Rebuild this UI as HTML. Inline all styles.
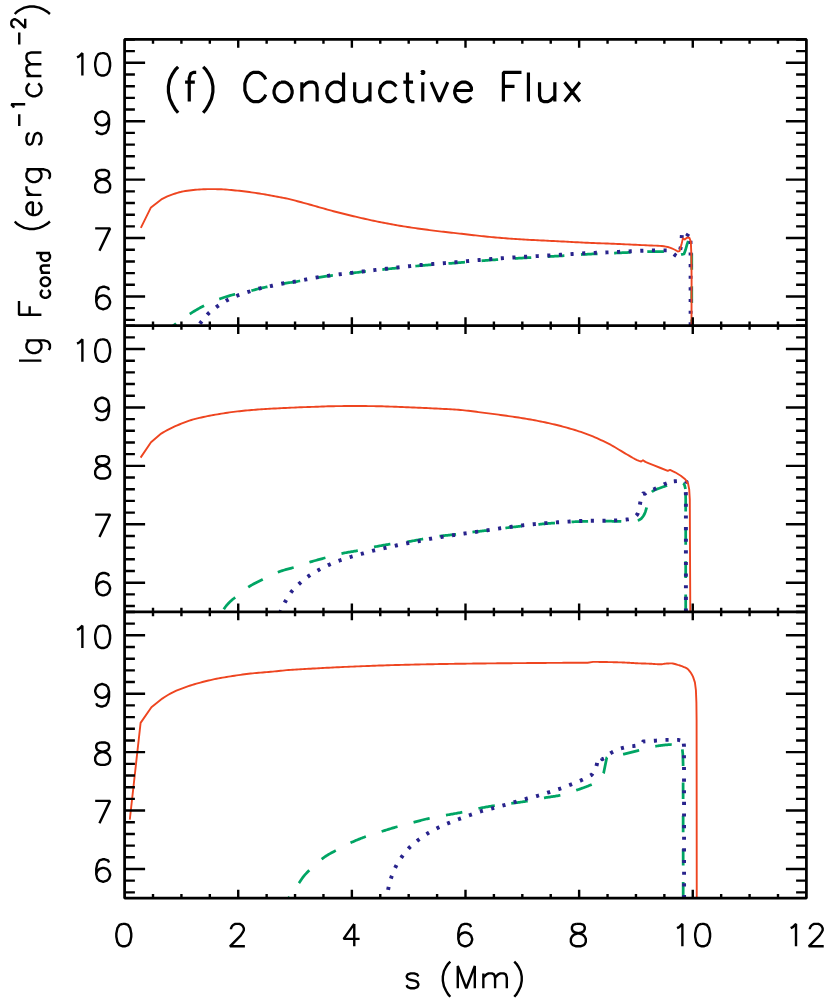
<!DOCTYPE html><html><head><meta charset="utf-8"><title>Conductive Flux</title><style>html,body{margin:0;padding:0;background:#fff}svg{display:block}</style></head><body><svg width="830" height="998" viewBox="0 0 830 998"><rect width="830" height="998" fill="#fff"/><defs><clipPath id="c0"><rect x="124.6" y="39.45" width="681.8" height="286.2"/></clipPath><clipPath id="c1"><rect x="124.6" y="325.65" width="681.8" height="286.3"/></clipPath><clipPath id="c2"><rect x="124.6" y="611.95" width="681.8" height="286.25"/></clipPath></defs><g clip-path="url(#c0)" fill="none" stroke-linejoin="round"><path d="M167.5 330.5 L169 329.18 L170.5 327.91 L172.01 326.7 L173.51 325.56 L175.01 324.42 L176.51 323.24 L178.01 322.04 L179.51 320.86 L181.02 319.71 L182.52 318.64 L184.02 317.62 L185.52 316.64 L187.02 315.68 L188.52 314.74 L190.03 313.79 L191.53 312.84 L193.03 311.89 L194.53 310.97 L196.03 310.07 L197.54 309.21 L199.04 308.38 L200.54 307.58 L202.04 306.79 L203.54 306.03 L205.04 305.28 L206.55 304.55 L208.05 303.84 L209.55 303.15 L211.05 302.48 L212.55 301.82 L214.05 301.18 L215.56 300.56 L217.06 299.96 L218.56 299.38 L220.06 298.82 L221.56 298.29 L223.06 297.77 L224.57 297.27 L226.07 296.79 L227.57 296.32 L229.07 295.87 L230.57 295.42 L232.08 294.99 L233.58 294.59 L235.08 294.21 L236.58 293.86 L238.08 293.53 L239.58 293.21 L241.09 292.91 L242.59 292.61 L244.09 292.31 L245.59 292.01 L247.09 291.69 L248.59 291.36 L250.1 291.01 L251.6 290.63 L253.1 290.24 L254.6 289.83 L256.1 289.42 L257.61 289.02 L259.11 288.64 L260.61 288.27 L262.11 287.93 L263.61 287.6 L265.11 287.28 L266.62 286.97 L268.12 286.66 L269.62 286.35 L271.12 286.04 L272.62 285.73 L274.12 285.41 L275.63 285.09 L277.13 284.77 L278.63 284.45 L280.13 284.15 L281.63 283.86 L283.14 283.59 L284.64 283.35 L286.14 283.12 L287.64 282.91 L289.14 282.7 L290.64 282.49 L292.15 282.28 L293.65 282.05 L295.15 281.81 L296.65 281.55 L298.15 281.27 L299.65 280.98 L301.16 280.69 L302.66 280.38 L304.16 280.08 L305.66 279.77 L307.16 279.46 L308.66 279.15 L310.17 278.85 L311.67 278.56 L313.17 278.27 L314.67 278 L316.17 277.75 L317.68 277.51 L319.18 277.28 L320.68 277.06 L322.18 276.84 L323.68 276.62 L325.18 276.41 L326.69 276.21 L328.19 276.01 L329.69 275.81 L331.19 275.61 L332.69 275.42 L334.19 275.23 L335.7 275.05 L337.2 274.86 L338.7 274.68 L340.2 274.5 L341.7 274.31 L343.21 274.13 L344.71 273.95 L346.21 273.77 L347.71 273.59 L349.21 273.41 L350.71 273.23 L352.22 273.05 L353.72 272.87 L355.22 272.68 L356.72 272.5 L358.22 272.32 L359.72 272.14 L361.23 271.97 L362.73 271.79 L364.23 271.61 L365.73 271.43 L367.23 271.26 L368.74 271.09 L370.24 270.91 L371.74 270.74 L373.24 270.57 L374.74 270.4 L376.24 270.23 L377.75 270.06 L379.25 269.89 L380.75 269.73 L382.25 269.56 L383.75 269.4 L385.25 269.23 L386.76 269.07 L388.26 268.91 L389.76 268.75 L391.26 268.59 L392.76 268.43 L394.26 268.27 L395.77 268.11 L397.27 267.95 L398.77 267.79 L400.27 267.63 L401.77 267.48 L403.28 267.32 L404.78 267.17 L406.28 267.02 L407.78 266.87 L409.28 266.72 L410.78 266.57 L412.29 266.42 L413.79 266.28 L415.29 266.14 L416.79 266 L418.29 265.86 L419.79 265.72 L421.3 265.59 L422.8 265.46 L424.3 265.33 L425.8 265.21 L427.3 265.08 L428.81 264.96 L430.31 264.84 L431.81 264.73 L433.31 264.61 L434.81 264.5 L436.31 264.38 L437.82 264.27 L439.32 264.16 L440.82 264.04 L442.32 263.93 L443.82 263.82 L445.32 263.71 L446.83 263.6 L448.33 263.48 L449.83 263.37 L451.33 263.26 L452.83 263.14 L454.34 263.02 L455.84 262.91 L457.34 262.79 L458.84 262.66 L460.34 262.54 L461.84 262.42 L463.35 262.29 L464.85 262.17 L466.35 262.04 L467.85 261.92 L469.35 261.79 L470.85 261.66 L472.36 261.54 L473.86 261.41 L475.36 261.29 L476.86 261.16 L478.36 261.04 L479.86 260.92 L481.37 260.8 L482.87 260.68 L484.37 260.56 L485.87 260.44 L487.37 260.33 L488.88 260.21 L490.38 260.1 L491.88 259.99 L493.38 259.88 L494.88 259.78 L496.38 259.67 L497.89 259.57 L499.39 259.46 L500.89 259.36 L502.39 259.26 L503.89 259.16 L505.39 259.06 L506.9 258.96 L508.4 258.86 L509.9 258.77 L511.4 258.67 L512.9 258.58 L514.41 258.49 L515.91 258.4 L517.41 258.31 L518.91 258.22 L520.41 258.14 L521.91 258.05 L523.42 257.97 L524.92 257.88 L526.42 257.8 L527.92 257.72 L529.42 257.64 L530.92 257.56 L532.43 257.48 L533.93 257.39 L535.43 257.31 L536.93 257.23 L538.43 257.14 L539.94 257.06 L541.44 256.97 L542.94 256.89 L544.44 256.81 L545.94 256.73 L547.44 256.64 L548.95 256.56 L550.45 256.48 L551.95 256.39 L553.45 256.31 L554.95 256.22 L556.45 256.13 L557.96 256.05 L559.46 255.96 L560.96 255.87 L562.46 255.77 L563.96 255.67 L565.46 255.57 L566.97 255.47 L568.47 255.37 L569.97 255.27 L571.47 255.16 L572.97 255.06 L574.48 254.96 L575.98 254.85 L577.48 254.76 L578.98 254.66 L580.48 254.57 L581.98 254.49 L583.49 254.41 L584.99 254.33 L586.49 254.26 L587.99 254.19 L589.49 254.12 L590.99 254.05 L592.5 253.99 L594 253.93 L595.5 253.87 L597 253.81 L598.5 253.75 L600.01 253.69 L601.51 253.63 L603.01 253.57 L604.51 253.5 L606.01 253.44 L607.51 253.38 L609.02 253.31 L610.52 253.25 L612.02 253.18 L613.52 253.11 L615.02 253.05 L616.52 252.98 L618.03 252.91 L619.53 252.85 L621.03 252.78 L622.53 252.72 L624.03 252.65 L625.54 252.59 L627.04 252.53 L628.54 252.47 L630.04 252.41 L631.54 252.35 L633.04 252.28 L634.55 252.21 L636.05 252.14 L637.55 252.07 L639.05 252 L640.55 251.94 L642.05 251.87 L643.56 251.81 L645.06 251.75 L646.56 251.7 L648.06 251.66 L649.56 251.63 L651.06 251.61 L652.57 251.6 L654.07 251.6 L655.57 251.6 L657.07 251.6 L658.57 251.6 L660.08 251.6 L661.58 251.6 L663.08 251.6 L664.58 251.6 L666.08 251.6 L667.58 251.69 L669.09 252.08 L670.59 252.64 L672.09 253.52 L673.59 254.86 L675.09 255.5" stroke="#00A564" stroke-width="2.75" stroke-dasharray="16.6 16.6" stroke-dashoffset="5.51"/><path d="M675.09 255.5 L676.59 255.49 L678.1 255.4 L679.6 255.16 L681.1 254.7 L684 254 L685.5 250 L687.2 243.9 L688.5 240.5 L690.3 239.5 L691.5 242 L691.75 250 L691.75 325.4" stroke="#00A564" stroke-width="2.75" stroke-dasharray="16.6 16.6" stroke-dashoffset="27.1"/><path d="M198.6 325.4 L200.1 323.37 L201.6 321.45 L203.1 319.55 L204.6 317.69 L206.1 315.92 L207.6 314.29 L209.1 312.83 L210.61 311.5 L212.11 310.25 L213.61 309.08 L215.11 307.96 L216.61 306.88 L218.11 305.82 L219.61 304.78 L221.11 303.77 L222.61 302.8 L224.11 301.87 L225.61 300.99 L227.11 300.17 L228.61 299.4 L230.11 298.67 L231.61 297.97 L233.11 297.3 L234.62 296.67 L236.12 296.06 L237.62 295.47 L239.12 294.91 L240.62 294.38 L242.12 293.87 L243.62 293.39 L245.12 292.91 L246.62 292.44 L248.12 291.97 L249.62 291.5 L251.12 291.02 L252.62 290.53 L254.12 290.05 L255.62 289.58 L257.12 289.13 L258.63 288.7 L260.13 288.29 L261.63 287.93 L263.13 287.58 L264.63 287.26 L266.13 286.95 L267.63 286.65 L269.13 286.35 L270.63 286.04 L272.13 285.73 L273.63 285.4 L275.13 285.07 L276.63 284.73 L278.13 284.4 L279.63 284.07 L281.14 283.77 L282.64 283.48 L284.14 283.23 L285.64 282.99 L287.14 282.77 L288.64 282.57 L290.14 282.36 L291.64 282.15 L293.14 281.93 L294.64 281.69 L296.14 281.44 L297.64 281.16 L299.14 280.88 L300.64 280.58 L302.14 280.28 L303.64 279.97 L305.15 279.65 L306.65 279.34 L308.15 279.03 L309.65 278.72 L311.15 278.42 L312.65 278.13 L314.15 277.85 L315.65 277.59 L317.15 277.34 L318.65 277.11 L320.15 276.88 L321.65 276.66 L323.15 276.44 L324.65 276.22 L326.15 276.02 L327.66 275.81 L329.16 275.61 L330.66 275.41 L332.16 275.22 L333.66 275.03 L335.16 274.84 L336.66 274.65 L338.16 274.47 L339.66 274.28 L341.16 274.1 L342.66 273.92 L344.16 273.73 L345.66 273.55 L347.16 273.37 L348.66 273.19 L350.16 273 L351.67 272.82 L353.17 272.63 L354.67 272.45 L356.17 272.26 L357.67 272.08 L359.17 271.89 L360.67 271.71 L362.17 271.53 L363.67 271.35 L365.17 271.17 L366.67 270.99 L368.17 270.81 L369.67 270.64 L371.17 270.46 L372.67 270.28 L374.17 270.11 L375.68 269.93 L377.18 269.76 L378.68 269.59 L380.18 269.42 L381.68 269.24 L383.18 269.07 L384.68 268.9 L386.18 268.74 L387.68 268.57 L389.18 268.4 L390.68 268.23 L392.18 268.06 L393.68 267.89 L395.18 267.72 L396.68 267.56 L398.19 267.39 L399.69 267.22 L401.19 267.05 L402.69 266.89 L404.19 266.73 L405.69 266.56 L407.19 266.4 L408.69 266.24 L410.19 266.09 L411.69 265.93 L413.19 265.78 L414.69 265.63 L416.19 265.48 L417.69 265.33 L419.19 265.19 L420.69 265.05 L422.2 264.91 L423.7 264.78 L425.2 264.65 L426.7 264.52 L428.2 264.39 L429.7 264.27 L431.2 264.15 L432.7 264.03 L434.2 263.92 L435.7 263.8 L437.2 263.69 L438.7 263.57 L440.2 263.46 L441.7 263.34 L443.2 263.23 L444.71 263.11 L446.21 263 L447.71 262.88 L449.21 262.76 L450.71 262.64 L452.21 262.52 L453.71 262.39 L455.21 262.26 L456.71 262.13 L458.21 261.99 L459.71 261.85 L461.21 261.71 L462.71 261.56 L464.21 261.42 L465.71 261.27 L467.21 261.14 L468.72 261 L470.22 260.86 L471.72 260.72 L473.22 260.59 L474.72 260.45 L476.22 260.31 L477.72 260.18 L479.22 260.05 L480.72 259.91 L482.22 259.78 L483.72 259.65 L485.22 259.52 L486.72 259.4 L488.22 259.27 L489.72 259.15 L491.22 259.04 L492.73 258.92 L494.23 258.8 L495.73 258.69 L497.23 258.57 L498.73 258.46 L500.23 258.35 L501.73 258.24 L503.23 258.14 L504.73 258.03 L506.23 257.93 L507.73 257.82 L509.23 257.72 L510.73 257.62 L512.23 257.53 L513.73 257.43 L515.24 257.34 L516.74 257.24 L518.24 257.16 L519.74 257.07 L521.24 256.98 L522.74 256.9 L524.24 256.82 L525.74 256.73 L527.24 256.65 L528.74 256.57 L530.24 256.49 L531.74 256.41 L533.24 256.33 L534.74 256.25 L536.24 256.16 L537.74 256.08 L539.25 256 L540.75 255.91 L542.25 255.83 L543.75 255.75 L545.25 255.66 L546.75 255.58 L548.25 255.5 L549.75 255.41 L551.25 255.33 L552.75 255.25 L554.25 255.16 L555.75 255.07 L557.25 254.99 L558.75 254.9 L560.25 254.81 L561.76 254.72 L563.26 254.62 L564.76 254.52 L566.26 254.42 L567.76 254.31 L569.26 254.21 L570.76 254.1 L572.26 254 L573.76 253.89 L575.26 253.79 L576.76 253.69 L578.26 253.6 L579.76 253.51 L581.26 253.42 L582.76 253.34 L584.26 253.27 L585.77 253.2 L587.27 253.14 L588.77 253.07 L590.27 253.02 L591.77 252.96 L593.27 252.9 L594.77 252.85 L596.27 252.8 L597.77 252.75 L599.27 252.69 L600.77 252.64 L602.27 252.59 L603.77 252.53 L605.27 252.47 L606.77 252.41 L608.27 252.34 L609.78 252.28 L611.28 252.21 L612.78 252.14 L614.28 252.06 L615.78 251.99 L617.28 251.92 L618.78 251.84 L620.28 251.77 L621.78 251.69 L623.28 251.62 L624.78 251.55 L626.28 251.48 L627.78 251.41 L629.28 251.34 L630.78 251.27 L632.29 251.21 L633.79 251.13 L635.29 251.06 L636.79 250.98 L638.29 250.9 L639.79 250.82 L641.29 250.75 L642.79 250.68 L644.29 250.61 L645.79 250.55 L647.29 250.5 L648.79 250.46 L650.29 250.43 L651.79 250.41 L653.29 250.4 L654.79 250.4 L656.3 250.4 L657.8 250.4 L659.3 250.4 L660.8 250.4 L662.3 250.4 L663.8 250.4 L665.3 250.4 L666.8 250.4" stroke="#28238C" stroke-width="3.9" stroke-dasharray="3.1 8.54" stroke-dashoffset="9.54"/><path d="M666.8 250.4 L670 251.3 L673 253.3 L675.3 255.3 L677.2 256.4 L678.6 255.3 L679.8 251.5 L680.9 246.5 L681.5 240 L681.9 234.3 L683.5 236.8 L685.2 238.3 L687 236 L688.7 233.2 L690 236 L690.5 240 L690.6 254 L690.6 325.4" stroke="#28238C" stroke-width="3.9" stroke-dasharray="3.1 8.54" stroke-dashoffset="3.54"/><path d="M140.84 227.83 L150.96 207.45 L161.3 199.4 L163.3 198.37 L165.3 197.4 L167.31 196.49 L169.31 195.65 L171.31 194.87 L173.31 194.16 L175.31 193.48 L177.32 192.84 L179.32 192.28 L181.32 191.8 L183.32 191.4 L185.32 191.05 L187.33 190.74 L189.33 190.47 L191.33 190.23 L193.33 190.01 L195.33 189.81 L197.33 189.62 L199.34 189.46 L201.34 189.34 L203.34 189.27 L205.34 189.2 L207.34 189.15 L209.35 189.11 L211.35 189.1 L213.35 189.11 L215.35 189.14 L217.35 189.18 L219.36 189.23 L221.36 189.28 L223.36 189.36 L225.36 189.5 L227.36 189.67 L229.37 189.87 L231.37 190.07 L233.37 190.25 L235.37 190.43 L237.37 190.61 L239.38 190.8 L241.38 191.01 L243.38 191.22 L245.38 191.47 L247.38 191.74 L249.39 192.03 L251.39 192.33 L253.39 192.63 L255.39 192.93 L257.39 193.24 L259.39 193.54 L261.4 193.86 L263.4 194.18 L265.4 194.52 L267.4 194.86 L269.4 195.23 L271.41 195.6 L273.41 195.97 L275.41 196.35 L277.41 196.73 L279.41 197.1 L281.42 197.47 L283.42 197.86 L285.42 198.26 L287.42 198.69 L289.42 199.16 L291.43 199.65 L293.43 200.16 L295.43 200.69 L297.43 201.22 L299.43 201.75 L301.44 202.28 L303.44 202.82 L305.44 203.37 L307.44 203.92 L309.44 204.47 L311.45 205.03 L313.45 205.59 L315.45 206.15 L317.45 206.72 L319.45 207.3 L321.46 207.87 L323.46 208.44 L325.46 209.01 L327.46 209.58 L329.46 210.14 L331.46 210.68 L333.47 211.22 L335.47 211.74 L337.47 212.26 L339.47 212.78 L341.47 213.28 L343.48 213.79 L345.48 214.28 L347.48 214.78 L349.48 215.26 L351.48 215.74 L353.49 216.22 L355.49 216.69 L357.49 217.16 L359.49 217.62 L361.49 218.08 L363.5 218.54 L365.5 218.99 L367.5 219.44 L369.5 219.88 L371.5 220.31 L373.51 220.74 L375.51 221.15 L377.51 221.56 L379.51 221.97 L381.51 222.37 L383.52 222.77 L385.52 223.16 L387.52 223.54 L389.52 223.92 L391.52 224.29 L393.52 224.65 L395.53 225.01 L397.53 225.35 L399.53 225.69 L401.53 226.02 L403.53 226.34 L405.54 226.66 L407.54 226.97 L409.54 227.27 L411.54 227.57 L413.54 227.87 L415.55 228.16 L417.55 228.44 L419.55 228.72 L421.55 229 L423.55 229.28 L425.56 229.55 L427.56 229.81 L429.56 230.08 L431.56 230.33 L433.56 230.59 L435.57 230.84 L437.57 231.09 L439.57 231.33 L441.57 231.57 L443.57 231.81 L445.58 232.04 L447.58 232.26 L449.58 232.48 L451.58 232.7 L453.58 232.92 L455.58 233.13 L457.59 233.35 L459.59 233.57 L461.59 233.79 L463.59 234.01 L465.59 234.24 L467.6 234.48 L469.6 234.71 L471.6 234.95 L473.6 235.19 L475.6 235.43 L477.61 235.66 L479.61 235.88 L481.61 236.09 L483.61 236.3 L485.61 236.5 L487.62 236.69 L489.62 236.89 L491.62 237.08 L493.62 237.26 L495.62 237.44 L497.63 237.62 L499.63 237.79 L501.63 237.96 L503.63 238.12 L505.63 238.27 L507.64 238.43 L509.64 238.58 L511.64 238.72 L513.64 238.86 L515.64 239 L517.64 239.13 L519.65 239.27 L521.65 239.39 L523.65 239.51 L525.65 239.63 L527.65 239.75 L529.66 239.85 L531.66 239.96 L533.66 240.06 L535.66 240.16 L537.66 240.26 L539.67 240.35 L541.67 240.45 L543.67 240.55 L545.67 240.65 L547.67 240.75 L549.68 240.85 L551.68 240.95 L553.68 241.05 L555.68 241.16 L557.68 241.26 L559.69 241.36 L561.69 241.46 L563.69 241.56 L565.69 241.66 L567.69 241.76 L569.7 241.87 L571.7 241.97 L573.7 242.08 L575.7 242.18 L577.7 242.29 L579.71 242.4 L581.71 242.5 L583.71 242.6 L585.71 242.7 L587.71 242.79 L589.71 242.88 L591.72 242.97 L593.72 243.05 L595.72 243.12 L597.72 243.19 L599.72 243.26 L601.73 243.33 L603.73 243.4 L605.73 243.47 L607.73 243.54 L609.73 243.62 L611.74 243.7 L613.74 243.78 L615.74 243.87 L617.74 243.95 L619.74 244.05 L621.75 244.14 L623.75 244.23 L625.75 244.33 L627.75 244.42 L629.75 244.52 L631.76 244.61 L633.76 244.71 L635.76 244.8 L637.76 244.9 L639.76 244.99 L641.77 245.08 L643.77 245.17 L645.77 245.26 L647.77 245.35 L649.77 245.44 L651.77 245.52 L653.78 245.59 L655.78 245.65 L657.78 245.73 L659.78 245.83 L661.78 245.98 L663.79 246.24 L665.79 246.6 L667.79 247.03 L669.79 247.59 L671.79 248.37 L673.8 249.25 L675.8 250.27 L677.8 251.45 L679.6 251.1 L681.45 244.6 L682.9 238.4 L684.7 239.5 L686.9 237.7 L689.4 237.7 L690.85 241.7 L691.4 256.15 L691.6 280 L691.5 325.4" stroke="#EE4520" stroke-width="1.9"/></g><g clip-path="url(#c1)" fill="none" stroke-linejoin="round"><path d="M222.5 611.7 L223.5 609.77 L224.5 608.18 L225.5 606.77 L226.5 605.5 L227.5 604.34 L228.5 603.26 L229.5 602.25 L230.5 601.3 L231.5 600.41 L232.5 599.57 L233.5 598.76 L234.5 597.94 L235.5 597.07 L236.5 596.17 L237.5 595.25 L238.5 594.34 L239.5 593.45 L240.5 592.6 L241.5 591.81 L242.5 591.06 L243.5 590.34 L244.5 589.64 L245.5 588.96 L246.5 588.3 L247.5 587.65 L248.5 587.01 L249.5 586.38 L250.5 585.77 L251.5 585.17 L252.5 584.59 L253.5 584.02 L254.5 583.47 L255.5 582.94 L256.5 582.43 L257.5 581.94 L258.5 581.47 L259.5 581 L260.5 580.53 L261.5 580.06 L262.5 579.57 L263.5 579.08 L264.5 578.57 L265.5 578.06 L266.5 577.55 L267.5 577.04 L268.5 576.54 L269.5 576.04 L270.5 575.56 L271.5 575.07 L272.5 574.59 L273.5 574.11 L274.5 573.64 L275.5 573.18 L276.5 572.75 L277.5 572.34 L278.5 571.96 L279.5 571.59 L280.5 571.24 L281.5 570.9 L282.5 570.58 L283.5 570.26 L284.5 569.95 L285.5 569.65 L286.5 569.37 L287.5 569.1 L288.5 568.84 L289.5 568.58 L290.5 568.32 L291.5 568.06 L292.5 567.79 L293.5 567.5 L294.5 567.2 L295.5 566.89 L296.5 566.57 L297.5 566.24 L298.5 565.91 L299.5 565.57 L300.5 565.23 L301.5 564.88 L302.5 564.54 L303.5 564.2 L304.5 563.85 L305.5 563.52 L306.5 563.18 L307.5 562.86 L308.5 562.54 L309.5 562.23 L310.5 561.93 L311.5 561.63 L312.5 561.34 L313.5 561.05 L314.5 560.77 L315.5 560.48 L316.5 560.2 L317.5 559.92 L318.5 559.65 L319.5 559.37 L320.5 559.1 L321.5 558.83 L322.5 558.56 L323.5 558.29 L324.5 558.02 L325.5 557.75 L326.5 557.47 L327.5 557.2 L328.5 556.92 L329.5 556.64 L330.5 556.36 L331.5 556.08 L332.5 555.81 L333.5 555.53 L334.5 555.26 L335.5 555 L336.5 554.74 L337.5 554.48 L338.5 554.23 L339.5 553.99 L340.5 553.76 L341.5 553.54 L342.5 553.33 L343.5 553.13 L344.5 552.94 L345.5 552.75 L346.5 552.58 L347.5 552.4 L348.5 552.23 L349.5 552.06 L350.5 551.9 L351.5 551.73 L352.5 551.56 L353.5 551.39 L354.5 551.22 L355.5 551.04 L356.5 550.85 L357.5 550.66 L358.5 550.46 L359.5 550.25 L360.5 550.03 L361.5 549.81 L362.5 549.59 L363.5 549.36 L364.5 549.13 L365.5 548.89 L366.5 548.66 L367.5 548.43 L368.5 548.19 L369.5 547.96 L370.5 547.74 L371.5 547.52 L372.5 547.31 L373.5 547.1 L374.5 546.9 L375.5 546.7 L376.5 546.51 L377.5 546.32 L378.5 546.12 L379.5 545.94 L380.5 545.75 L381.5 545.57 L382.5 545.38 L383.5 545.21 L384.5 545.03 L385.5 544.86 L386.5 544.69 L387.5 544.53 L388.5 544.36 L389.5 544.21 L390.5 544.05 L391.5 543.91 L392.5 543.77 L393.5 543.63 L394.5 543.5 L395.5 543.38 L396.5 543.25 L397.5 543.13 L398.5 543.01 L399.5 542.89 L400.5 542.76 L401.5 542.64 L402.5 542.51 L403.5 542.38 L404.5 542.25 L405.5 542.11 L406.5 541.96 L407.5 541.81 L408.5 541.64 L409.5 541.48 L410.5 541.3 L411.5 541.12 L412.5 540.94 L413.5 540.75 L414.5 540.56 L415.5 540.37 L416.5 540.18 L417.5 539.98 L418.5 539.79 L419.5 539.6 L420.5 539.42 L421.5 539.23 L422.5 539.05 L423.5 538.88 L424.5 538.7 L425.5 538.52 L426.5 538.34 L427.5 538.16 L428.5 537.98 L429.5 537.8 L430.5 537.62 L431.5 537.44 L432.5 537.27 L433.5 537.1 L434.5 536.93 L435.5 536.77 L436.5 536.61 L437.5 536.46 L438.5 536.32 L439.5 536.18 L440.5 536.05 L441.5 535.92 L442.5 535.81 L443.5 535.7 L444.5 535.59 L445.5 535.48 L446.5 535.38 L447.5 535.28 L448.5 535.19 L449.5 535.09 L450.5 534.99 L451.5 534.89 L452.5 534.79 L453.5 534.68 L454.5 534.57 L455.5 534.46 L456.5 534.34 L457.5 534.21 L458.5 534.08 L459.5 533.95 L460.5 533.81 L461.5 533.67 L462.5 533.52 L463.5 533.38 L464.5 533.23 L465.5 533.09 L466.5 532.94 L467.5 532.79 L468.5 532.65 L469.5 532.51 L470.5 532.37 L471.5 532.24 L472.5 532.11 L473.5 531.99 L474.5 531.87 L475.5 531.75 L476.5 531.63 L477.5 531.52 L478.5 531.4 L479.5 531.29 L480.5 531.18 L481.5 531.07 L482.5 530.96 L483.5 530.85 L484.5 530.74 L485.5 530.63 L486.5 530.51 L487.5 530.4 L488.5 530.28 L489.5 530.16 L490.5 530.04 L491.5 529.91 L492.5 529.78 L493.5 529.65 L494.5 529.52 L495.5 529.38 L496.5 529.25 L497.5 529.11 L498.5 528.97 L499.5 528.83 L500.5 528.69 L501.5 528.55 L502.5 528.42 L503.5 528.28 L504.5 528.14 L505.5 528.01 L506.5 527.87 L507.5 527.74 L508.5 527.61 L509.5 527.48 L510.5 527.36 L511.5 527.24 L512.5 527.12 L513.5 527 L514.5 526.88 L515.5 526.76 L516.5 526.65 L517.5 526.53 L518.5 526.41 L519.5 526.3 L520.5 526.19 L521.5 526.07 L522.5 525.96 L523.5 525.85 L524.5 525.74 L525.5 525.63 L526.5 525.53 L527.5 525.42 L528.5 525.32 L529.5 525.21 L530.5 525.11 L531.5 525.01 L532.5 524.92 L533.5 524.82 L534.5 524.72 L535.5 524.63 L536.5 524.54 L537.5 524.44 L538.5 524.35 L539.5 524.26 L540.5 524.17 L541.5 524.08 L542.5 523.99 L543.5 523.9 L544.5 523.82 L545.5 523.73 L546.5 523.65 L547.5 523.56 L548.5 523.48 L549.5 523.4 L550.5 523.32 L551.5 523.24 L552.5 523.17 L553.5 523.09 L554.5 523.02 L555.5 522.95 L556.5 522.88 L557.5 522.81 L558.5 522.74 L559.5 522.67 L560.5 522.6 L561.5 522.54 L562.5 522.47 L563.5 522.4 L564.5 522.34 L565.5 522.27 L566.5 522.21 L567.5 522.14 L568.5 522.08 L569.5 522.02 L570.5 521.96 L571.5 521.91 L572.5 521.85 L573.5 521.8 L574.5 521.75 L575.5 521.7 L576.5 521.65 L577.5 521.61 L578.5 521.57 L579.5 521.53 L580.5 521.5 L581.5 521.46 L582.5 521.43 L583.5 521.39 L584.5 521.36 L585.5 521.33 L586.5 521.3 L587.5 521.27 L588.5 521.24 L589.5 521.23 L590.5 521.21 L591.5 521.2 L592.5 521.2 L593.5 521.2 L594.5 521.2 L595.5 521.2 L596.5 521.2 L597.5 521.2 L598.5 521.2 L599.5 521.2 L600.5 521.2 L601.5 521.2 L602.5 521.2 L603.5 521.2 L604.5 521.2 L605.5 521.2 L606.5 521.21 L607.5 521.21 L608.5 521.22 L609.5 521.22 L610.5 521.23 L611.5 521.24 L612.5 521.26 L613.5 521.27 L614.5 521.28 L615.5 521.29 L616.5 521.31 L617.5 521.33 L618.5 521.36 L619.5 521.4 L620.5 521.45 L621.5 521.5 L622.5 521.55 L623.5 521.6 L624.5 521.65 L625.5 521.69 L626.5 521.73 L627.5 521.76 L628.5 521.79 L629.5 521.8 L630.5 521.79 L631.5 521.73 L632.5 521.62 L633.5 521.47 L634.5 521.3 L635.5 521.1 L636.5 520.89 L637.5 520.6 L638.5 520.23 L639.5 519.77 L640.5 519.18 L641.5 518.33 L642.5 517.2 L643.5 515.8 L644.5 514.04 L645.5 511.42 L646.5 508 L647.5 502.47 L648.5 498.26 L649.5 495.49 L650.5 493.7 L651.5 492.37 L652.5 491.37 L653.5 490.68 L654.5 490.13 L655.5 489.66 L656.5 489.26 L657.5 488.89 L658.5 488.55 L659.5 488.19 L660.5 487.81 L661.5 487.43 L662.5 487.07 L663.5 486.72 L664.5 486.37 L665.5 486.03 L666.5 485.68 L667.5 485.31 L668.5 484.91 L669.5 484.48 L670.5 484.05 L671.5 483.66 L672.5 483.33 L673.5 483.08 L674.5 482.93 L675.5 482.81 L676.5 482.7 L677.5 482.61 L678.5 482.54 L679.5 482.5 L680.5 482.52 L681.5 482.71 L682.5 483.08 L683.5 483.64 L684.5 485.01 L685.5 489" stroke="#00A564" stroke-width="2.75" stroke-dasharray="16.6 16.6" stroke-dashoffset="30.53"/><path d="M685.5 489 L685.7 500 L685.7 611.7" stroke="#00A564" stroke-width="2.75" stroke-dasharray="16.6 16.6" stroke-dashoffset="27.3"/><path d="M280.2 612.3 L281.2 610.26 L282.2 608.09 L283.2 605.89 L284.2 603.74 L285.21 601.74 L286.21 599.93 L287.21 598.19 L288.21 596.52 L289.21 594.94 L290.21 593.46 L291.21 592.09 L292.21 590.85 L293.21 589.69 L294.22 588.6 L295.22 587.57 L296.22 586.58 L297.22 585.63 L298.22 584.71 L299.22 583.8 L300.22 582.9 L301.22 582.01 L302.22 581.14 L303.23 580.29 L304.23 579.45 L305.23 578.64 L306.23 577.86 L307.23 577.1 L308.23 576.37 L309.23 575.67 L310.23 574.99 L311.23 574.34 L312.24 573.71 L313.24 573.09 L314.24 572.49 L315.24 571.9 L316.24 571.33 L317.24 570.76 L318.24 570.21 L319.24 569.66 L320.24 569.12 L321.25 568.58 L322.25 568.06 L323.25 567.54 L324.25 567.04 L325.25 566.54 L326.25 566.05 L327.25 565.58 L328.25 565.12 L329.25 564.66 L330.26 564.22 L331.26 563.79 L332.26 563.37 L333.26 562.96 L334.26 562.55 L335.26 562.15 L336.26 561.76 L337.26 561.38 L338.26 561.01 L339.27 560.64 L340.27 560.28 L341.27 559.93 L342.27 559.59 L343.27 559.25 L344.27 558.92 L345.27 558.6 L346.27 558.28 L347.27 557.97 L348.28 557.66 L349.28 557.35 L350.28 557.05 L351.28 556.75 L352.28 556.46 L353.28 556.17 L354.28 555.89 L355.28 555.61 L356.28 555.34 L357.29 555.07 L358.29 554.8 L359.29 554.53 L360.29 554.26 L361.29 553.99 L362.29 553.72 L363.29 553.45 L364.29 553.17 L365.29 552.88 L366.3 552.6 L367.3 552.31 L368.3 552.03 L369.3 551.75 L370.3 551.47 L371.3 551.2 L372.3 550.93 L373.3 550.67 L374.3 550.43 L375.31 550.19 L376.31 549.96 L377.31 549.73 L378.31 549.51 L379.31 549.29 L380.31 549.07 L381.31 548.85 L382.31 548.64 L383.31 548.42 L384.32 548.2 L385.32 547.97 L386.32 547.75 L387.32 547.52 L388.32 547.29 L389.32 547.06 L390.32 546.84 L391.32 546.61 L392.32 546.38 L393.33 546.16 L394.33 545.93 L395.33 545.71 L396.33 545.49 L397.33 545.28 L398.33 545.06 L399.33 544.85 L400.33 544.64 L401.33 544.42 L402.34 544.21 L403.34 544.01 L404.34 543.8 L405.34 543.6 L406.34 543.4 L407.34 543.21 L408.34 543.02 L409.34 542.83 L410.34 542.65 L411.35 542.48 L412.35 542.31 L413.35 542.14 L414.35 541.97 L415.35 541.79 L416.35 541.62 L417.35 541.44 L418.35 541.26 L419.35 541.07 L420.36 540.87 L421.36 540.67 L422.36 540.45 L423.36 540.23 L424.36 540.01 L425.36 539.79 L426.36 539.58 L427.36 539.36 L428.36 539.15 L429.37 538.95 L430.37 538.76 L431.37 538.58 L432.37 538.41 L433.37 538.24 L434.37 538.08 L435.37 537.92 L436.37 537.77 L437.37 537.61 L438.38 537.46 L439.38 537.31 L440.38 537.15 L441.38 537 L442.38 536.84 L443.38 536.68 L444.38 536.52 L445.38 536.36 L446.38 536.2 L447.39 536.04 L448.39 535.88 L449.39 535.72 L450.39 535.57 L451.39 535.41 L452.39 535.25 L453.39 535.1 L454.39 534.95 L455.39 534.8 L456.4 534.65 L457.4 534.5 L458.4 534.35 L459.4 534.21 L460.4 534.06 L461.4 533.92 L462.4 533.77 L463.4 533.63 L464.4 533.49 L465.4 533.34 L466.41 533.2 L467.41 533.06 L468.41 532.92 L469.41 532.78 L470.41 532.65 L471.41 532.51 L472.41 532.37 L473.41 532.23 L474.41 532.09 L475.42 531.95 L476.42 531.81 L477.42 531.67 L478.42 531.53 L479.42 531.38 L480.42 531.24 L481.42 531.1 L482.42 530.95 L483.42 530.81 L484.43 530.66 L485.43 530.52 L486.43 530.37 L487.43 530.23 L488.43 530.08 L489.43 529.94 L490.43 529.79 L491.43 529.64 L492.43 529.49 L493.44 529.34 L494.44 529.19 L495.44 529.04 L496.44 528.89 L497.44 528.74 L498.44 528.58 L499.44 528.43 L500.44 528.28 L501.44 528.14 L502.45 527.99 L503.45 527.84 L504.45 527.7 L505.45 527.55 L506.45 527.41 L507.45 527.27 L508.45 527.14 L509.45 527 L510.45 526.87 L511.46 526.74 L512.46 526.61 L513.46 526.49 L514.46 526.36 L515.46 526.24 L516.46 526.11 L517.46 525.99 L518.46 525.87 L519.46 525.74 L520.47 525.62 L521.47 525.51 L522.47 525.39 L523.47 525.27 L524.47 525.16 L525.47 525.05 L526.47 524.94 L527.47 524.83 L528.47 524.72 L529.48 524.62 L530.48 524.52 L531.48 524.41 L532.48 524.32 L533.48 524.22 L534.48 524.13 L535.48 524.03 L536.48 523.94 L537.48 523.85 L538.49 523.77 L539.49 523.68 L540.49 523.59 L541.49 523.51 L542.49 523.42 L543.49 523.34 L544.49 523.26 L545.49 523.18 L546.49 523.1 L547.5 523.02 L548.5 522.95 L549.5 522.87 L550.5 522.8 L551.5 522.72 L552.5 522.65 L553.5 522.58 L554.5 522.51 L555.5 522.44 L556.51 522.37 L557.51 522.31 L558.51 522.24 L559.51 522.17 L560.51 522.11 L561.51 522.04 L562.51 521.97 L563.51 521.91 L564.51 521.84 L565.52 521.78 L566.52 521.71 L567.52 521.65 L568.52 521.59 L569.52 521.53 L570.52 521.47 L571.52 521.41 L572.52 521.35 L573.52 521.3 L574.53 521.25 L575.53 521.2 L576.53 521.15 L577.53 521.11 L578.53 521.07 L579.53 521.03 L580.53 521 L581.53 520.96 L582.53 520.93 L583.54 520.89 L584.54 520.86 L585.54 520.82 L586.54 520.79 L587.54 520.77 L588.54 520.74 L589.54 520.72 L590.54 520.71 L591.54 520.7 L592.55 520.7 L593.55 520.7 L594.55 520.7 L595.55 520.7 L596.55 520.7 L597.55 520.7 L598.55 520.7 L599.55 520.7 L600.55 520.7 L601.56 520.7 L602.56 520.7 L603.56 520.7 L604.56 520.7 L605.56 520.69 L606.56 520.68 L607.56 520.67 L608.56 520.65 L609.56 520.62 L610.57 520.59 L611.57 520.56 L612.57 520.53 L613.57 520.49 L614.57 520.46 L615.57 520.42 L616.57 520.38 L617.57 520.33 L618.57 520.28 L619.58 520.21 L620.58 520.15 L621.58 520.07 L622.58 519.98 L623.58 519.89 L624.58 519.79 L625.58 519.67 L626.58 519.55 L627.58 519.42 L628.59 519.25 L629.59 519.05 L630.59 518.8 L631.59 518.51 L632.59 518.16 L633.59 517.74 L634.59 517.14 L635.59 516.33 L636.59 515.25 L637.6 513.84 L638.6 510.89 L639.6 506.52 L640.6 500.53 L641.6 496.6 L643.2 493.4 L645.2 493.7 L646.2 492.3 L647.23 491.8 L648.27 491.32 L649.3 490.88 L650.33 490.48 L651.37 490.11 L652.4 489.75 L653.43 489.36 L654.47 488.95 L655.5 488.51 L656.53 488.06 L657.57 487.6 L658.6 487.13 L659.63 486.64 L660.67 486.14 L661.7 485.63 L662.73 485.1 L663.77 484.56 L664.8 484 L668.3 482.7 L669.5 483.5 L670.5 481.7 L674.4 481.3 L680 480.9 L684 481.1 L686.6 481.9 L685.5 484.8 L685.7 490 L685.9 495" stroke="#28238C" stroke-width="3.9" stroke-dasharray="3.1 8.54" stroke-dashoffset="1"/><path d="M685.9 495 L685.9 611.7" stroke="#28238C" stroke-width="3.9" stroke-dasharray="3.1 8.54" stroke-dashoffset="2.89"/><path d="M140.6 457.6 L151 442.2 L161.2 433.6 L163.21 432.41 L165.22 431.26 L167.22 430.16 L169.23 429.1 L171.24 428.09 L173.25 427.13 L175.26 426.22 L177.26 425.34 L179.27 424.5 L181.28 423.69 L183.29 422.89 L185.3 422.1 L187.3 421.34 L189.31 420.63 L191.32 419.98 L193.33 419.41 L195.34 418.88 L197.34 418.39 L199.35 417.92 L201.36 417.47 L203.37 417.04 L205.37 416.61 L207.38 416.19 L209.39 415.79 L211.4 415.41 L213.41 415.03 L215.41 414.67 L217.42 414.33 L219.43 414 L221.44 413.67 L223.45 413.34 L225.45 413.03 L227.46 412.72 L229.47 412.43 L231.48 412.15 L233.49 411.89 L235.49 411.64 L237.5 411.41 L239.51 411.19 L241.52 410.97 L243.53 410.77 L245.53 410.57 L247.54 410.38 L249.55 410.2 L251.56 410.03 L253.57 409.86 L255.57 409.7 L257.58 409.55 L259.59 409.4 L261.6 409.26 L263.61 409.13 L265.61 409 L267.62 408.88 L269.63 408.77 L271.64 408.66 L273.65 408.55 L275.65 408.45 L277.66 408.34 L279.67 408.24 L281.68 408.14 L283.68 408.04 L285.69 407.95 L287.7 407.86 L289.71 407.76 L291.72 407.67 L293.72 407.58 L295.73 407.48 L297.74 407.39 L299.75 407.31 L301.76 407.23 L303.76 407.16 L305.77 407.09 L307.78 407.03 L309.79 406.96 L311.8 406.9 L313.8 406.83 L315.81 406.75 L317.82 406.68 L319.83 406.6 L321.84 406.52 L323.84 406.45 L325.85 406.38 L327.86 406.32 L329.87 406.27 L331.88 406.23 L333.88 406.19 L335.89 406.16 L337.9 406.14 L339.91 406.11 L341.92 406.09 L343.92 406.06 L345.93 406.04 L347.94 406.03 L349.95 406.02 L351.96 406.01 L353.96 406 L355.97 406 L357.98 406 L359.99 406.01 L361.99 406.03 L364 406.04 L366.01 406.06 L368.02 406.08 L370.03 406.11 L372.03 406.13 L374.04 406.16 L376.05 406.19 L378.06 406.22 L380.07 406.26 L382.07 406.31 L384.08 406.37 L386.09 406.44 L388.1 406.51 L390.11 406.58 L392.11 406.66 L394.12 406.74 L396.13 406.82 L398.14 406.89 L400.15 406.96 L402.15 407.04 L404.16 407.12 L406.17 407.2 L408.18 407.28 L410.19 407.37 L412.19 407.46 L414.2 407.54 L416.21 407.63 L418.22 407.72 L420.23 407.81 L422.23 407.89 L424.24 407.98 L426.25 408.07 L428.26 408.16 L430.27 408.25 L432.27 408.34 L434.28 408.43 L436.29 408.52 L438.3 408.62 L440.31 408.72 L442.31 408.83 L444.32 408.93 L446.33 409.04 L448.34 409.14 L450.34 409.26 L452.35 409.37 L454.36 409.5 L456.37 409.63 L458.38 409.77 L460.38 409.93 L462.39 410.12 L464.4 410.33 L466.41 410.57 L468.42 410.81 L470.42 411.05 L472.43 411.3 L474.44 411.55 L476.45 411.81 L478.46 412.08 L480.46 412.34 L482.47 412.6 L484.48 412.86 L486.49 413.12 L488.5 413.37 L490.5 413.63 L492.51 413.89 L494.52 414.15 L496.53 414.42 L498.54 414.68 L500.54 414.96 L502.55 415.23 L504.56 415.51 L506.57 415.79 L508.58 416.08 L510.58 416.37 L512.59 416.66 L514.6 416.95 L516.61 417.25 L518.62 417.56 L520.62 417.87 L522.63 418.19 L524.64 418.52 L526.65 418.86 L528.65 419.21 L530.66 419.56 L532.67 419.92 L534.68 420.29 L536.69 420.67 L538.69 421.06 L540.7 421.45 L542.71 421.86 L544.72 422.28 L546.73 422.71 L548.73 423.14 L550.74 423.59 L552.75 424.06 L554.76 424.53 L556.77 425.02 L558.77 425.52 L560.78 426.03 L562.79 426.56 L564.8 427.1 L566.81 427.65 L568.81 428.22 L570.82 428.8 L572.83 429.4 L574.84 430.02 L576.85 430.65 L578.85 431.3 L580.86 431.97 L582.87 432.66 L584.88 433.37 L586.89 434.1 L588.89 434.84 L590.9 435.61 L592.91 436.43 L594.92 437.3 L596.93 438.19 L598.93 439.11 L600.94 440.03 L602.95 440.97 L604.96 441.93 L606.96 442.91 L608.97 443.92 L610.98 444.96 L612.99 446.06 L615 447.22 L617 448.44 L619.01 449.69 L621.02 450.93 L623.03 452.14 L625.04 453.31 L627.04 454.49 L629.05 455.69 L631.06 456.88 L633.07 458.02 L635.08 459.09 L637.08 460.05 L639.09 460.87 L641.1 461.5 L643 460.2 L645.4 461.9 L648.3 463.1 L653.4 465.1 L660.6 468 L667.8 470.9 L670 469.9 L675.1 472.3 L680.8 475.7 L685.2 479.3 L688.1 483.6 L689.2 489.4 L689.8 499.5 L689.95 540 L690.3 611.7" stroke="#EE4520" stroke-width="1.9"/></g><g clip-path="url(#c2)" fill="none" stroke-linejoin="round"><path d="M286 902 L287 900.55 L288 899.08 L289.01 897.59 L290.01 896.06 L291.01 894.5 L292.01 892.98 L293.02 891.5 L294.02 890.05 L295.02 888.62 L296.02 887.19 L297.02 885.77 L298.03 884.35 L299.03 882.91 L300.03 881.44 L301.03 879.94 L302.04 878.47 L303.04 877.09 L304.04 875.84 L305.04 874.68 L306.04 873.58 L307.05 872.52 L308.05 871.49 L309.05 870.45 L310.05 869.4 L311.06 868.36 L312.06 867.33 L313.06 866.33 L314.06 865.36 L315.06 864.44 L316.07 863.56 L317.07 862.7 L318.07 861.87 L319.07 861.06 L320.08 860.27 L321.08 859.51 L322.08 858.77 L323.08 858.05 L324.08 857.35 L325.09 856.67 L326.09 856.01 L327.09 855.37 L328.09 854.75 L329.09 854.15 L330.1 853.57 L331.1 853.02 L332.1 852.48 L333.1 851.95 L334.11 851.42 L335.11 850.89 L336.11 850.34 L337.11 849.78 L338.11 849.21 L339.12 848.64 L340.12 848.07 L341.12 847.51 L342.12 846.96 L343.13 846.43 L344.13 845.92 L345.13 845.41 L346.13 844.92 L347.13 844.43 L348.14 843.95 L349.14 843.48 L350.14 843.01 L351.14 842.55 L352.15 842.1 L353.15 841.66 L354.15 841.22 L355.15 840.79 L356.15 840.36 L357.16 839.95 L358.16 839.54 L359.16 839.13 L360.16 838.73 L361.17 838.33 L362.17 837.94 L363.17 837.56 L364.17 837.18 L365.17 836.82 L366.18 836.46 L367.18 836.11 L368.18 835.77 L369.18 835.43 L370.19 835.1 L371.19 834.77 L372.19 834.45 L373.19 834.13 L374.19 833.81 L375.2 833.49 L376.2 833.18 L377.2 832.87 L378.2 832.55 L379.21 832.24 L380.21 831.93 L381.21 831.62 L382.21 831.3 L383.21 830.99 L384.22 830.67 L385.22 830.36 L386.22 830.04 L387.22 829.73 L388.23 829.42 L389.23 829.1 L390.23 828.8 L391.23 828.49 L392.23 828.18 L393.24 827.88 L394.24 827.58 L395.24 827.28 L396.24 826.99 L397.25 826.7 L398.25 826.42 L399.25 826.13 L400.25 825.86 L401.25 825.58 L402.26 825.31 L403.26 825.04 L404.26 824.77 L405.26 824.5 L406.26 824.24 L407.27 823.97 L408.27 823.71 L409.27 823.45 L410.27 823.19 L411.28 822.93 L412.28 822.67 L413.28 822.41 L414.28 822.15 L415.28 821.88 L416.29 821.62 L417.29 821.35 L418.29 821.09 L419.29 820.82 L420.3 820.56 L421.3 820.29 L422.3 820.03 L423.3 819.77 L424.3 819.52 L425.31 819.27 L426.31 819.02 L427.31 818.79 L428.31 818.55 L429.32 818.33 L430.32 818.11 L431.32 817.9 L432.32 817.69 L433.32 817.49 L434.33 817.29 L435.33 817.1 L436.33 816.91 L437.33 816.73 L438.34 816.54 L439.34 816.36 L440.34 816.18 L441.34 816 L442.34 815.82 L443.35 815.64 L444.35 815.46 L445.35 815.27 L446.35 815.09 L447.36 814.91 L448.36 814.73 L449.36 814.55 L450.36 814.38 L451.36 814.2 L452.37 814.03 L453.37 813.86 L454.37 813.68 L455.37 813.51 L456.38 813.33 L457.38 813.15 L458.38 812.97 L459.38 812.79 L460.38 812.6 L461.39 812.4 L462.39 812.2 L463.39 811.99 L464.39 811.78 L465.4 811.55 L466.4 811.32 L467.4 811.08 L468.4 810.84 L469.4 810.6 L470.41 810.35 L471.41 810.1 L472.41 809.85 L473.41 809.61 L474.42 809.37 L475.42 809.13 L476.42 808.9 L477.42 808.68 L478.42 808.46 L479.43 808.25 L480.43 808.06 L481.43 807.86 L482.43 807.67 L483.44 807.49 L484.44 807.3 L485.44 807.12 L486.44 806.94 L487.44 806.77 L488.45 806.6 L489.45 806.43 L490.45 806.27 L491.45 806.1 L492.45 805.95 L493.46 805.79 L494.46 805.64 L495.46 805.49 L496.46 805.34 L497.47 805.2 L498.47 805.06 L499.47 804.93 L500.47 804.79 L501.47 804.66 L502.48 804.53 L503.48 804.41 L504.48 804.28 L505.48 804.15 L506.49 804.03 L507.49 803.9 L508.49 803.77 L509.49 803.64 L510.49 803.5 L511.5 803.37 L512.5 803.23 L513.5 803.09 L514.5 802.96 L515.51 802.82 L516.51 802.68 L517.51 802.55 L518.51 802.41 L519.51 802.27 L520.52 802.13 L521.52 801.99 L522.52 801.84 L523.52 801.7 L524.53 801.55 L525.53 801.39 L526.53 801.24 L527.53 801.08 L528.53 800.91 L529.54 800.74 L530.54 800.56 L531.54 800.37 L532.54 800.18 L533.55 799.99 L534.55 799.79 L535.55 799.59 L536.55 799.38 L537.55 799.18 L538.56 798.98 L539.56 798.78 L540.56 798.58 L541.56 798.38 L542.57 798.19 L543.57 798 L544.57 797.82 L545.57 797.65 L546.57 797.48 L547.58 797.33 L548.58 797.17 L549.58 797.03 L550.58 796.88 L551.59 796.73 L552.59 796.59 L553.59 796.44 L554.59 796.29 L555.59 796.13 L556.6 795.96 L557.6 795.79 L558.6 795.6 L559.6 795.41 L560.61 795.2 L561.61 794.97 L562.61 794.73 L563.61 794.46 L564.61 794.18 L565.62 793.89 L566.62 793.58 L567.62 793.26 L568.62 792.93 L569.62 792.59 L570.63 792.25 L571.63 791.9 L572.63 791.54 L573.63 791.19 L574.64 790.83 L575.64 790.48 L576.64 790.13 L577.64 789.78 L578.64 789.43 L579.65 789.09 L580.65 788.74 L581.65 788.39 L582.65 788.04 L583.66 787.68 L584.66 787.31 L585.66 786.94 L586.66 786.56 L587.66 786.16 L588.67 785.75 L589.67 785.33 L590.67 784.9 L591.67 784.45 L592.68 783.97 L593.68 783.47 L594.68 782.94 L595.68 782.35 L596.68 781.71 L597.69 781.02 L598.69 780.26 L599.69 779.36 L600.69 778.27 L601.7 776.78 L602.7 774.93 L603.7 772.8 L606.8 757.4 L607.81 756.49 L608.81 755.85 L609.82 755.64 L610.83 755.5 L611.83 755.4 L612.84 755.31 L613.85 755.22 L614.85 755.11 L615.86 755.01 L616.87 754.92 L617.87 754.82 L618.88 754.73 L619.89 754.62 L620.89 754.51 L621.9 754.37 L622.91 754.22 L623.91 754.04 L624.92 753.84 L625.93 753.63 L626.93 753.4 L627.94 753.16 L628.95 752.91 L629.95 752.65 L630.96 752.38 L631.97 752.11 L632.97 751.84 L633.98 751.57 L634.99 751.31 L635.99 751.05 L637 750.8 L638.01 750.55 L639.01 750.28 L640.02 750.01 L641.03 749.73 L642.03 749.45 L643.04 749.16 L644.05 748.88 L645.05 748.6 L646.06 748.32 L647.07 748.04 L648.07 747.78 L649.08 747.53 L650.09 747.29 L651.09 747.06 L652.1 746.86 L653.11 746.67 L654.11 746.5 L655.12 746.33 L656.13 746.17 L657.13 746.01 L658.14 745.86 L659.15 745.71 L660.15 745.56 L661.16 745.42 L662.17 745.29 L663.17 745.17 L664.18 745.05 L665.19 744.95 L666.19 744.85 L667.2 744.76 L668.21 744.68 L669.21 744.62 L670.22 744.56 L671.23 744.5 L672.23 744.45 L673.24 744.4 L674.25 744.36 L675.25 744.32 L676.26 744.3 L677.27 744.31 L678.27 744.48 L679.28 744.84 L680.29 745.37 L681.29 746.61 L682.3 749" stroke="#00A564" stroke-width="2.75" stroke-dasharray="16.6 16.6" stroke-dashoffset="10.32"/><path d="M682.3 749 L682.8 754 L683.1 764.2 L683.2 897.6" stroke="#00A564" stroke-width="2.75" stroke-dasharray="16.6 16.6" stroke-dashoffset="32.89"/><path d="M386.8 897.6 L387.8 891.22 L388.81 886.27 L389.81 882.27 L390.82 878.86 L391.82 875.86 L392.83 873.15 L393.83 870.68 L394.84 868.44 L395.84 866.39 L396.85 864.51 L397.85 862.77 L398.86 861.15 L399.86 859.61 L400.87 858.16 L401.87 856.75 L402.88 855.38 L403.88 854.04 L404.89 852.76 L405.89 851.51 L406.9 850.32 L407.9 849.18 L408.91 848.11 L409.91 847.09 L410.92 846.12 L411.92 845.19 L412.93 844.3 L413.93 843.44 L414.94 842.6 L415.94 841.79 L416.95 841 L417.95 840.21 L418.96 839.44 L419.96 838.69 L420.97 837.95 L421.97 837.22 L422.98 836.51 L423.98 835.82 L424.99 835.14 L425.99 834.48 L427 833.84 L428 833.21 L429.01 832.6 L430.01 832.01 L431.02 831.42 L432.02 830.85 L433.03 830.29 L434.03 829.74 L435.04 829.21 L436.04 828.68 L437.05 828.17 L438.05 827.68 L439.05 827.19 L440.06 826.72 L441.06 826.26 L442.07 825.81 L443.07 825.36 L444.08 824.93 L445.08 824.5 L446.09 824.08 L447.09 823.66 L448.1 823.25 L449.1 822.84 L450.11 822.43 L451.11 822.04 L452.12 821.65 L453.12 821.27 L454.13 820.89 L455.13 820.52 L456.14 820.15 L457.14 819.77 L458.15 819.4 L459.15 819.03 L460.16 818.65 L461.16 818.28 L462.17 817.91 L463.17 817.53 L464.18 817.16 L465.18 816.79 L466.19 816.42 L467.19 816.05 L468.2 815.69 L469.2 815.33 L470.21 814.97 L471.21 814.62 L472.22 814.27 L473.22 813.91 L474.23 813.56 L475.23 813.21 L476.24 812.86 L477.24 812.52 L478.25 812.18 L479.25 811.86 L480.26 811.54 L481.26 811.23 L482.27 810.93 L483.27 810.65 L484.28 810.37 L485.28 810.1 L486.29 809.84 L487.29 809.58 L488.3 809.32 L489.3 809.07 L490.3 808.81 L491.31 808.56 L492.31 808.3 L493.32 808.04 L494.32 807.78 L495.33 807.53 L496.33 807.28 L497.34 807.02 L498.34 806.77 L499.35 806.52 L500.35 806.26 L501.36 806 L502.36 805.74 L503.37 805.47 L504.37 805.2 L505.38 804.92 L506.38 804.63 L507.39 804.34 L508.39 804.04 L509.4 803.74 L510.4 803.44 L511.41 803.14 L512.41 802.84 L513.42 802.54 L514.42 802.24 L515.43 801.95 L516.43 801.65 L517.44 801.35 L518.44 801.06 L519.45 800.76 L520.45 800.47 L521.46 800.17 L522.46 799.88 L523.47 799.59 L524.47 799.3 L525.48 799.02 L526.48 798.74 L527.49 798.47 L528.49 798.2 L529.5 797.93 L530.5 797.67 L531.51 797.41 L532.51 797.15 L533.52 796.89 L534.52 796.62 L535.53 796.35 L536.53 796.07 L537.54 795.79 L538.54 795.5 L539.55 795.2 L540.55 794.89 L541.55 794.59 L542.56 794.27 L543.56 793.96 L544.57 793.64 L545.57 793.32 L546.58 793 L547.58 792.68 L548.59 792.37 L549.59 792.05 L550.6 791.74 L551.6 791.43 L552.61 791.12 L553.61 790.81 L554.62 790.5 L555.62 790.18 L556.63 789.86 L557.63 789.53 L558.64 789.2 L559.64 788.85 L560.65 788.5 L561.65 788.14 L562.66 787.77 L563.66 787.4 L564.67 787.01 L565.67 786.63 L566.68 786.23 L567.68 785.84 L568.69 785.44 L569.69 785.04 L570.7 784.64 L571.7 784.24 L572.71 783.84 L573.71 783.45 L574.72 783.05 L575.72 782.64 L576.73 782.23 L577.73 781.82 L578.74 781.39 L579.74 780.95 L580.75 780.5 L581.75 780.04 L582.76 779.56 L583.76 779.06 L584.77 778.56 L585.77 778.04 L586.78 777.51 L587.78 776.97 L588.79 776.42 L589.79 775.86 L590.8 775.28 L591.8 774.7 L594 771.3 L596 767.3 L596.8 764.6 L597.5 760.5 L599.2 757.8 L601.2 757.2 L602.3 759.3 L602.3 759.3 L603.33 758.43 L604.35 757.58 L605.38 756.76 L606.41 755.97 L607.43 755.22 L608.46 754.5 L609.49 753.83 L610.51 753.2 L611.54 752.62 L612.57 752.07 L613.59 751.54 L614.62 751.02 L615.65 750.52 L616.67 750.05 L617.7 749.61 L618.73 749.19 L619.75 748.81 L620.78 748.47 L621.81 748.18 L622.83 747.91 L623.86 747.66 L624.89 747.41 L625.91 747.18 L626.94 746.96 L627.97 746.75 L628.99 746.57 L630.02 746.41 L631.05 746.28 L632.07 746.17 L633.1 746.1 L638.5 745.2 L641.8 743.9 L643.2 741.5 L646 741.3 L646 741.3 L647.01 741.23 L648.01 741.17 L649.02 741.1 L650.02 741.03 L651.03 740.97 L652.04 740.9 L653.04 740.83 L654.05 740.76 L655.05 740.7 L656.06 740.62 L657.06 740.54 L658.07 740.45 L659.08 740.36 L660.08 740.27 L661.09 740.18 L662.09 740.1 L663.1 740.02 L664.11 739.97 L665.11 739.92 L666.12 739.9 L667.12 739.9 L668.13 739.9 L669.14 739.9 L670.14 739.9 L671.15 739.9 L672.15 739.9 L673.16 739.9 L674.16 739.9 L675.17 739.9 L676.18 739.9 L677.18 739.9 L678.19 739.92 L679.19 740.09 L680.2 740.3" stroke="#28238C" stroke-width="3.9" stroke-dasharray="3.1 8.54" stroke-dashoffset="3.86"/><path d="M680.2 740.3 L682.5 741 L683.7 743 L684 746 L684 756.8 L684.1 897.6" stroke="#28238C" stroke-width="3.9" stroke-dasharray="3.1 8.54" stroke-dashoffset="6.28"/><path d="M129.8 819.6 L140.6 722.85 L151.4 707.2 L162.3 698.6 L164.31 697.25 L166.31 695.95 L168.32 694.73 L170.32 693.6 L172.33 692.56 L174.34 691.61 L176.34 690.71 L178.35 689.87 L180.36 689.07 L182.36 688.3 L184.37 687.56 L186.37 686.85 L188.38 686.16 L190.39 685.5 L192.39 684.87 L194.4 684.26 L196.4 683.68 L198.41 683.11 L200.42 682.57 L202.42 682.04 L204.43 681.52 L206.43 681.02 L208.44 680.53 L210.45 680.07 L212.45 679.62 L214.46 679.19 L216.47 678.79 L218.47 678.4 L220.48 678.03 L222.48 677.67 L224.49 677.33 L226.5 677 L228.5 676.67 L230.51 676.36 L232.51 676.04 L234.52 675.74 L236.53 675.43 L238.53 675.13 L240.54 674.83 L242.55 674.55 L244.55 674.27 L246.56 674.01 L248.56 673.77 L250.57 673.55 L252.58 673.34 L254.58 673.15 L256.59 672.97 L258.59 672.8 L260.6 672.64 L262.61 672.48 L264.61 672.31 L266.62 672.15 L268.62 671.98 L270.63 671.81 L272.64 671.62 L274.64 671.42 L276.65 671.21 L278.66 671 L280.66 670.78 L282.67 670.57 L284.67 670.36 L286.68 670.17 L288.69 670 L290.69 669.85 L292.7 669.72 L294.7 669.6 L296.71 669.48 L298.72 669.37 L300.72 669.26 L302.73 669.14 L304.74 669.03 L306.74 668.92 L308.75 668.8 L310.75 668.69 L312.76 668.57 L314.77 668.46 L316.77 668.35 L318.78 668.24 L320.78 668.13 L322.79 668.02 L324.8 667.91 L326.8 667.8 L328.81 667.7 L330.82 667.59 L332.82 667.49 L334.83 667.39 L336.83 667.29 L338.84 667.2 L340.85 667.1 L342.85 667.01 L344.86 666.92 L346.86 666.84 L348.87 666.75 L350.88 666.67 L352.88 666.58 L354.89 666.5 L356.89 666.41 L358.9 666.33 L360.91 666.25 L362.91 666.17 L364.92 666.09 L366.93 666.01 L368.93 665.94 L370.94 665.86 L372.94 665.78 L374.95 665.71 L376.96 665.64 L378.96 665.57 L380.97 665.5 L382.97 665.43 L384.98 665.36 L386.99 665.3 L388.99 665.24 L391 665.17 L393.01 665.11 L395.01 665.06 L397.02 665 L399.02 664.95 L401.03 664.89 L403.04 664.84 L405.04 664.79 L407.05 664.74 L409.05 664.7 L411.06 664.65 L413.07 664.6 L415.07 664.56 L417.08 664.51 L419.08 664.47 L421.09 664.42 L423.1 664.38 L425.1 664.34 L427.11 664.3 L429.12 664.26 L431.12 664.22 L433.13 664.18 L435.13 664.14 L437.14 664.11 L439.15 664.07 L441.15 664.04 L443.16 664 L445.16 663.97 L447.17 663.94 L449.18 663.91 L451.18 663.87 L453.19 663.84 L455.2 663.81 L457.2 663.79 L459.21 663.76 L461.21 663.73 L463.22 663.7 L465.23 663.68 L467.23 663.65 L469.24 663.62 L471.24 663.6 L473.25 663.57 L475.26 663.55 L477.26 663.53 L479.27 663.5 L481.28 663.48 L483.28 663.46 L485.29 663.44 L487.29 663.41 L489.3 663.39 L491.31 663.37 L493.31 663.35 L495.32 663.33 L497.32 663.31 L499.33 663.29 L501.34 663.28 L503.34 663.26 L505.35 663.24 L507.35 663.22 L509.36 663.21 L511.37 663.19 L513.37 663.17 L515.38 663.16 L517.39 663.14 L519.39 663.12 L521.4 663.11 L523.4 663.09 L525.41 663.08 L527.42 663.06 L529.42 663.04 L531.43 663.03 L533.43 663.01 L535.44 663 L537.45 662.98 L539.45 662.97 L541.46 662.96 L543.47 662.94 L545.47 662.93 L547.48 662.91 L549.48 662.9 L551.49 662.89 L553.5 662.87 L555.5 662.86 L557.51 662.85 L559.51 662.84 L561.52 662.83 L563.53 662.81 L565.53 662.8 L567.54 662.79 L569.54 662.78 L571.55 662.77 L573.56 662.76 L575.56 662.75 L577.57 662.74 L579.58 662.73 L581.58 662.72 L583.59 662.72 L585.59 662.71 L587.6 662.7 L593.1 661.9 L594.11 661.9 L595.12 661.9 L596.13 661.91 L597.14 661.91 L598.15 661.92 L599.15 661.93 L600.16 661.94 L601.17 661.96 L602.18 661.97 L603.19 661.99 L604.2 662 L605.21 662.02 L606.22 662.04 L607.23 662.06 L608.24 662.08 L609.25 662.1 L610.25 662.13 L611.26 662.15 L612.27 662.17 L613.28 662.2 L614.29 662.22 L615.3 662.25 L616.31 662.28 L617.32 662.3 L618.33 662.33 L619.34 662.36 L620.35 662.39 L621.35 662.42 L622.36 662.45 L623.37 662.49 L624.38 662.54 L625.39 662.59 L626.4 662.64 L627.41 662.7 L628.42 662.75 L629.43 662.82 L630.44 662.88 L631.45 662.94 L632.45 663 L633.46 663.06 L634.47 663.12 L635.48 663.18 L636.49 663.24 L637.5 663.29 L638.51 663.34 L639.52 663.38 L640.53 663.42 L641.54 663.45 L642.55 663.48 L643.55 663.51 L644.56 663.54 L645.57 663.57 L646.58 663.6 L647.59 663.63 L648.6 663.66 L649.61 663.7 L650.62 663.75 L651.63 663.81 L652.64 663.87 L653.65 663.95 L654.65 664.02 L655.66 664.09 L656.67 664.16 L657.68 664.21 L658.69 664.26 L659.7 664.29 L660.71 664.3 L661.72 664.24 L662.73 664.1 L663.74 663.92 L664.75 663.74 L665.75 663.62 L666.76 663.56 L667.77 663.5 L668.78 663.46 L669.79 663.42 L670.8 663.4 L671.81 663.41 L672.82 663.52 L673.83 663.71 L674.84 663.97 L675.85 664.26 L676.85 664.58 L677.86 664.9 L678.87 665.19 L679.88 665.51 L680.89 665.85 L681.9 666.21 L682.91 666.6 L683.92 667.01 L684.93 667.41 L685.94 667.87 L686.95 668.43 L687.95 669.22 L688.96 670.34 L689.97 671.63 L690.98 673.07 L691.99 674.74 L693 676.6 L694.9 682.4 L695.9 690.1 L696.4 702.65 L696.6 720 L696.75 897.6" stroke="#EE4520" stroke-width="1.9"/></g><path d="M124.6 39.45 H806.4 V898.2 H124.6 ZM124.6 325.65H806.4M124.6 611.95H806.4" fill="none" stroke="#000" stroke-width="2.75" stroke-linejoin="bevel"/><path d="M153.01 39.45v4.2M153.01 321.45v8.4M153.01 607.75v8.4M153.01 898.2v-4.2M181.42 39.45v4.2M181.42 321.45v8.4M181.42 607.75v8.4M181.42 898.2v-4.2M209.82 39.45v4.2M209.82 321.45v8.4M209.82 607.75v8.4M209.82 898.2v-4.2M238.23 39.45v8.4M238.23 317.25v16.8M238.23 603.55v16.8M238.23 898.2v-8.4M266.64 39.45v4.2M266.64 321.45v8.4M266.64 607.75v8.4M266.64 898.2v-4.2M295.05 39.45v4.2M295.05 321.45v8.4M295.05 607.75v8.4M295.05 898.2v-4.2M323.46 39.45v4.2M323.46 321.45v8.4M323.46 607.75v8.4M323.46 898.2v-4.2M351.87 39.45v8.4M351.87 317.25v16.8M351.87 603.55v16.8M351.87 898.2v-8.4M380.27 39.45v4.2M380.27 321.45v8.4M380.27 607.75v8.4M380.27 898.2v-4.2M408.68 39.45v4.2M408.68 321.45v8.4M408.68 607.75v8.4M408.68 898.2v-4.2M437.09 39.45v4.2M437.09 321.45v8.4M437.09 607.75v8.4M437.09 898.2v-4.2M465.5 39.45v8.4M465.5 317.25v16.8M465.5 603.55v16.8M465.5 898.2v-8.4M493.91 39.45v4.2M493.91 321.45v8.4M493.91 607.75v8.4M493.91 898.2v-4.2M522.32 39.45v4.2M522.32 321.45v8.4M522.32 607.75v8.4M522.32 898.2v-4.2M550.73 39.45v4.2M550.73 321.45v8.4M550.73 607.75v8.4M550.73 898.2v-4.2M579.13 39.45v8.4M579.13 317.25v16.8M579.13 603.55v16.8M579.13 898.2v-8.4M607.54 39.45v4.2M607.54 321.45v8.4M607.54 607.75v8.4M607.54 898.2v-4.2M635.95 39.45v4.2M635.95 321.45v8.4M635.95 607.75v8.4M635.95 898.2v-4.2M664.36 39.45v4.2M664.36 321.45v8.4M664.36 607.75v8.4M664.36 898.2v-4.2M692.77 39.45v8.4M692.77 317.25v16.8M692.77 603.55v16.8M692.77 898.2v-8.4M721.17 39.45v4.2M721.17 321.45v8.4M721.17 607.75v8.4M721.17 898.2v-4.2M749.58 39.45v4.2M749.58 321.45v8.4M749.58 607.75v8.4M749.58 898.2v-4.2M777.99 39.45v4.2M777.99 321.45v8.4M777.99 607.75v8.4M777.99 898.2v-4.2M124.6 319.86h10.3M806.4 319.86h-10.3M124.6 308.17h10.3M806.4 308.17h-10.3M124.6 296.49h20.5M806.4 296.49h-20.5M124.6 284.81h10.3M806.4 284.81h-10.3M124.6 273.12h10.3M806.4 273.12h-10.3M124.6 261.44h10.3M806.4 261.44h-10.3M124.6 249.76h10.3M806.4 249.76h-10.3M124.6 238.07h20.5M806.4 238.07h-20.5M124.6 226.39h10.3M806.4 226.39h-10.3M124.6 214.71h10.3M806.4 214.71h-10.3M124.6 203.02h10.3M806.4 203.02h-10.3M124.6 191.34h10.3M806.4 191.34h-10.3M124.6 179.65h20.5M806.4 179.65h-20.5M124.6 167.97h10.3M806.4 167.97h-10.3M124.6 156.29h10.3M806.4 156.29h-10.3M124.6 144.6h10.3M806.4 144.6h-10.3M124.6 132.92h10.3M806.4 132.92h-10.3M124.6 121.24h20.5M806.4 121.24h-20.5M124.6 109.55h10.3M806.4 109.55h-10.3M124.6 97.87h10.3M806.4 97.87h-10.3M124.6 86.18h10.3M806.4 86.18h-10.3M124.6 74.5h10.3M806.4 74.5h-10.3M124.6 62.82h20.5M806.4 62.82h-20.5M124.6 51.13h10.3M806.4 51.13h-10.3M124.6 39.45h10.3M806.4 39.45h-10.3M124.6 606.06h10.3M806.4 606.06h-10.3M124.6 594.37h10.3M806.4 594.37h-10.3M124.6 582.69h20.5M806.4 582.69h-20.5M124.6 571.01h10.3M806.4 571.01h-10.3M124.6 559.32h10.3M806.4 559.32h-10.3M124.6 547.64h10.3M806.4 547.64h-10.3M124.6 535.96h10.3M806.4 535.96h-10.3M124.6 524.27h20.5M806.4 524.27h-20.5M124.6 512.59h10.3M806.4 512.59h-10.3M124.6 500.91h10.3M806.4 500.91h-10.3M124.6 489.22h10.3M806.4 489.22h-10.3M124.6 477.54h10.3M806.4 477.54h-10.3M124.6 465.85h20.5M806.4 465.85h-20.5M124.6 454.17h10.3M806.4 454.17h-10.3M124.6 442.49h10.3M806.4 442.49h-10.3M124.6 430.8h10.3M806.4 430.8h-10.3M124.6 419.12h10.3M806.4 419.12h-10.3M124.6 407.44h20.5M806.4 407.44h-20.5M124.6 395.75h10.3M806.4 395.75h-10.3M124.6 384.07h10.3M806.4 384.07h-10.3M124.6 372.38h10.3M806.4 372.38h-10.3M124.6 360.7h10.3M806.4 360.7h-10.3M124.6 349.02h20.5M806.4 349.02h-20.5M124.6 337.33h10.3M806.4 337.33h-10.3M124.6 325.65h10.3M806.4 325.65h-10.3M124.6 892.36h10.3M806.4 892.36h-10.3M124.6 880.67h10.3M806.4 880.67h-10.3M124.6 868.99h20.5M806.4 868.99h-20.5M124.6 857.31h10.3M806.4 857.31h-10.3M124.6 845.62h10.3M806.4 845.62h-10.3M124.6 833.94h10.3M806.4 833.94h-10.3M124.6 822.26h10.3M806.4 822.26h-10.3M124.6 810.57h20.5M806.4 810.57h-20.5M124.6 798.89h10.3M806.4 798.89h-10.3M124.6 787.21h10.3M806.4 787.21h-10.3M124.6 775.52h10.3M806.4 775.52h-10.3M124.6 763.84h10.3M806.4 763.84h-10.3M124.6 752.15h20.5M806.4 752.15h-20.5M124.6 740.47h10.3M806.4 740.47h-10.3M124.6 728.79h10.3M806.4 728.79h-10.3M124.6 717.1h10.3M806.4 717.1h-10.3M124.6 705.42h10.3M806.4 705.42h-10.3M124.6 693.74h20.5M806.4 693.74h-20.5M124.6 682.05h10.3M806.4 682.05h-10.3M124.6 670.37h10.3M806.4 670.37h-10.3M124.6 658.68h10.3M806.4 658.68h-10.3M124.6 647h10.3M806.4 647h-10.3M124.6 635.32h20.5M806.4 635.32h-20.5M124.6 623.63h10.3M806.4 623.63h-10.3M124.6 611.95h10.3M806.4 611.95h-10.3" fill="none" stroke="#000" stroke-width="2.4"/><path transform="translate(70.66 75.52)" d="M6.4 -18.12 L8.53 -19.19 L11.73 -22.39 L11.73 0M30.91 -22.39 L27.72 -21.32 L25.58 -18.12 L24.52 -12.79 L24.52 -9.59 L25.58 -4.26 L27.72 -1.07 L30.91 0 L33.05 0 L36.24 -1.07 L38.38 -4.26 L39.44 -9.59 L39.44 -12.79 L38.38 -18.12 L36.24 -21.32 L33.05 -22.39 L30.91 -22.39" fill="none" stroke="#000" stroke-width="2.4" stroke-linejoin="bevel"/><path transform="translate(91.98 133.94)" d="M17.06 -14.92 L15.99 -11.73 L13.86 -9.59 L10.66 -8.53 L9.59 -8.53 L6.4 -9.59 L4.26 -11.73 L3.2 -14.92 L3.2 -15.99 L4.26 -19.19 L6.4 -21.32 L9.59 -22.39 L10.66 -22.39 L13.86 -21.32 L15.99 -19.19 L17.06 -14.92 L17.06 -9.59 L15.99 -4.26 L13.86 -1.07 L10.66 0 L8.53 0 L5.33 -1.07 L4.26 -3.2" fill="none" stroke="#000" stroke-width="2.4" stroke-linejoin="bevel"/><path transform="translate(91.98 192.35)" d="M8.53 -22.39 L5.33 -21.32 L4.26 -19.19 L4.26 -17.06 L5.33 -14.92 L7.46 -13.86 L11.73 -12.79 L14.92 -11.73 L17.06 -9.59 L18.12 -7.46 L18.12 -4.26 L17.06 -2.13 L15.99 -1.07 L12.79 0 L8.53 0 L5.33 -1.07 L4.26 -2.13 L3.2 -4.26 L3.2 -7.46 L4.26 -9.59 L6.4 -11.73 L9.59 -12.79 L13.86 -13.86 L15.99 -14.92 L17.06 -17.06 L17.06 -19.19 L15.99 -21.32 L12.79 -22.39 L8.53 -22.39" fill="none" stroke="#000" stroke-width="2.4" stroke-linejoin="bevel"/><path transform="translate(91.98 250.77)" d="M3.2 -22.39 L18.12 -22.39 L7.46 0" fill="none" stroke="#000" stroke-width="2.4" stroke-linejoin="bevel"/><path transform="translate(91.98 309.19)" d="M17.06 -19.19 L15.99 -21.32 L12.79 -22.39 L10.66 -22.39 L7.46 -21.32 L5.33 -18.12 L4.26 -12.79 L4.26 -7.46 L5.33 -3.2 L7.46 -1.07 L10.66 0 L11.73 0 L14.92 -1.07 L17.06 -3.2 L18.12 -6.4 L18.12 -7.46 L17.06 -10.66 L14.92 -12.79 L11.73 -13.86 L10.66 -13.86 L7.46 -12.79 L5.33 -10.66 L4.26 -7.46" fill="none" stroke="#000" stroke-width="2.4" stroke-linejoin="bevel"/><path transform="translate(70.66 361.72)" d="M6.4 -18.12 L8.53 -19.19 L11.73 -22.39 L11.73 0M30.91 -22.39 L27.72 -21.32 L25.58 -18.12 L24.52 -12.79 L24.52 -9.59 L25.58 -4.26 L27.72 -1.07 L30.91 0 L33.05 0 L36.24 -1.07 L38.38 -4.26 L39.44 -9.59 L39.44 -12.79 L38.38 -18.12 L36.24 -21.32 L33.05 -22.39 L30.91 -22.39" fill="none" stroke="#000" stroke-width="2.4" stroke-linejoin="bevel"/><path transform="translate(91.98 420.14)" d="M17.06 -14.92 L15.99 -11.73 L13.86 -9.59 L10.66 -8.53 L9.59 -8.53 L6.4 -9.59 L4.26 -11.73 L3.2 -14.92 L3.2 -15.99 L4.26 -19.19 L6.4 -21.32 L9.59 -22.39 L10.66 -22.39 L13.86 -21.32 L15.99 -19.19 L17.06 -14.92 L17.06 -9.59 L15.99 -4.26 L13.86 -1.07 L10.66 0 L8.53 0 L5.33 -1.07 L4.26 -3.2" fill="none" stroke="#000" stroke-width="2.4" stroke-linejoin="bevel"/><path transform="translate(91.98 478.55)" d="M8.53 -22.39 L5.33 -21.32 L4.26 -19.19 L4.26 -17.06 L5.33 -14.92 L7.46 -13.86 L11.73 -12.79 L14.92 -11.73 L17.06 -9.59 L18.12 -7.46 L18.12 -4.26 L17.06 -2.13 L15.99 -1.07 L12.79 0 L8.53 0 L5.33 -1.07 L4.26 -2.13 L3.2 -4.26 L3.2 -7.46 L4.26 -9.59 L6.4 -11.73 L9.59 -12.79 L13.86 -13.86 L15.99 -14.92 L17.06 -17.06 L17.06 -19.19 L15.99 -21.32 L12.79 -22.39 L8.53 -22.39" fill="none" stroke="#000" stroke-width="2.4" stroke-linejoin="bevel"/><path transform="translate(91.98 536.97)" d="M3.2 -22.39 L18.12 -22.39 L7.46 0" fill="none" stroke="#000" stroke-width="2.4" stroke-linejoin="bevel"/><path transform="translate(91.98 595.39)" d="M17.06 -19.19 L15.99 -21.32 L12.79 -22.39 L10.66 -22.39 L7.46 -21.32 L5.33 -18.12 L4.26 -12.79 L4.26 -7.46 L5.33 -3.2 L7.46 -1.07 L10.66 0 L11.73 0 L14.92 -1.07 L17.06 -3.2 L18.12 -6.4 L18.12 -7.46 L17.06 -10.66 L14.92 -12.79 L11.73 -13.86 L10.66 -13.86 L7.46 -12.79 L5.33 -10.66 L4.26 -7.46" fill="none" stroke="#000" stroke-width="2.4" stroke-linejoin="bevel"/><path transform="translate(70.66 648.02)" d="M6.4 -18.12 L8.53 -19.19 L11.73 -22.39 L11.73 0M30.91 -22.39 L27.72 -21.32 L25.58 -18.12 L24.52 -12.79 L24.52 -9.59 L25.58 -4.26 L27.72 -1.07 L30.91 0 L33.05 0 L36.24 -1.07 L38.38 -4.26 L39.44 -9.59 L39.44 -12.79 L38.38 -18.12 L36.24 -21.32 L33.05 -22.39 L30.91 -22.39" fill="none" stroke="#000" stroke-width="2.4" stroke-linejoin="bevel"/><path transform="translate(91.98 706.44)" d="M17.06 -14.92 L15.99 -11.73 L13.86 -9.59 L10.66 -8.53 L9.59 -8.53 L6.4 -9.59 L4.26 -11.73 L3.2 -14.92 L3.2 -15.99 L4.26 -19.19 L6.4 -21.32 L9.59 -22.39 L10.66 -22.39 L13.86 -21.32 L15.99 -19.19 L17.06 -14.92 L17.06 -9.59 L15.99 -4.26 L13.86 -1.07 L10.66 0 L8.53 0 L5.33 -1.07 L4.26 -3.2" fill="none" stroke="#000" stroke-width="2.4" stroke-linejoin="bevel"/><path transform="translate(91.98 764.85)" d="M8.53 -22.39 L5.33 -21.32 L4.26 -19.19 L4.26 -17.06 L5.33 -14.92 L7.46 -13.86 L11.73 -12.79 L14.92 -11.73 L17.06 -9.59 L18.12 -7.46 L18.12 -4.26 L17.06 -2.13 L15.99 -1.07 L12.79 0 L8.53 0 L5.33 -1.07 L4.26 -2.13 L3.2 -4.26 L3.2 -7.46 L4.26 -9.59 L6.4 -11.73 L9.59 -12.79 L13.86 -13.86 L15.99 -14.92 L17.06 -17.06 L17.06 -19.19 L15.99 -21.32 L12.79 -22.39 L8.53 -22.39" fill="none" stroke="#000" stroke-width="2.4" stroke-linejoin="bevel"/><path transform="translate(91.98 823.27)" d="M3.2 -22.39 L18.12 -22.39 L7.46 0" fill="none" stroke="#000" stroke-width="2.4" stroke-linejoin="bevel"/><path transform="translate(91.98 881.69)" d="M17.06 -19.19 L15.99 -21.32 L12.79 -22.39 L10.66 -22.39 L7.46 -21.32 L5.33 -18.12 L4.26 -12.79 L4.26 -7.46 L5.33 -3.2 L7.46 -1.07 L10.66 0 L11.73 0 L14.92 -1.07 L17.06 -3.2 L18.12 -6.4 L18.12 -7.46 L17.06 -10.66 L14.92 -12.79 L11.73 -13.86 L10.66 -13.86 L7.46 -12.79 L5.33 -10.66 L4.26 -7.46" fill="none" stroke="#000" stroke-width="2.4" stroke-linejoin="bevel"/><path transform="translate(113.14 946.3)" d="M9.59 -22.39 L6.4 -21.32 L4.26 -18.12 L3.2 -12.79 L3.2 -9.59 L4.26 -4.26 L6.4 -1.07 L9.59 0 L11.73 0 L14.92 -1.07 L17.06 -4.26 L18.12 -9.59 L18.12 -12.79 L17.06 -18.12 L14.92 -21.32 L11.73 -22.39 L9.59 -22.39" fill="none" stroke="#000" stroke-width="2.4" stroke-linejoin="bevel"/><path transform="translate(226.77 946.3)" d="M4.26 -17.06 L4.26 -18.12 L5.33 -20.25 L6.4 -21.32 L8.53 -22.39 L12.79 -22.39 L14.92 -21.32 L15.99 -20.25 L17.06 -18.12 L17.06 -15.99 L15.99 -13.86 L13.86 -10.66 L3.2 0 L18.12 0" fill="none" stroke="#000" stroke-width="2.4" stroke-linejoin="bevel"/><path transform="translate(340.41 946.3)" d="M13.86 -22.39 L3.2 -7.46 L19.19 -7.46M13.86 -22.39 L13.86 0" fill="none" stroke="#000" stroke-width="2.4" stroke-linejoin="bevel"/><path transform="translate(454.04 946.3)" d="M17.06 -19.19 L15.99 -21.32 L12.79 -22.39 L10.66 -22.39 L7.46 -21.32 L5.33 -18.12 L4.26 -12.79 L4.26 -7.46 L5.33 -3.2 L7.46 -1.07 L10.66 0 L11.73 0 L14.92 -1.07 L17.06 -3.2 L18.12 -6.4 L18.12 -7.46 L17.06 -10.66 L14.92 -12.79 L11.73 -13.86 L10.66 -13.86 L7.46 -12.79 L5.33 -10.66 L4.26 -7.46" fill="none" stroke="#000" stroke-width="2.4" stroke-linejoin="bevel"/><path transform="translate(567.67 946.3)" d="M8.53 -22.39 L5.33 -21.32 L4.26 -19.19 L4.26 -17.06 L5.33 -14.92 L7.46 -13.86 L11.73 -12.79 L14.92 -11.73 L17.06 -9.59 L18.12 -7.46 L18.12 -4.26 L17.06 -2.13 L15.99 -1.07 L12.79 0 L8.53 0 L5.33 -1.07 L4.26 -2.13 L3.2 -4.26 L3.2 -7.46 L4.26 -9.59 L6.4 -11.73 L9.59 -12.79 L13.86 -13.86 L15.99 -14.92 L17.06 -17.06 L17.06 -19.19 L15.99 -21.32 L12.79 -22.39 L8.53 -22.39" fill="none" stroke="#000" stroke-width="2.4" stroke-linejoin="bevel"/><path transform="translate(670.65 946.3)" d="M6.4 -18.12 L8.53 -19.19 L11.73 -22.39 L11.73 0M30.91 -22.39 L27.72 -21.32 L25.58 -18.12 L24.52 -12.79 L24.52 -9.59 L25.58 -4.26 L27.72 -1.07 L30.91 0 L33.05 0 L36.24 -1.07 L38.38 -4.26 L39.44 -9.59 L39.44 -12.79 L38.38 -18.12 L36.24 -21.32 L33.05 -22.39 L30.91 -22.39" fill="none" stroke="#000" stroke-width="2.4" stroke-linejoin="bevel"/><path transform="translate(784.28 946.3)" d="M6.4 -18.12 L8.53 -19.19 L11.73 -22.39 L11.73 0M25.58 -17.06 L25.58 -18.12 L26.65 -20.25 L27.72 -21.32 L29.85 -22.39 L34.11 -22.39 L36.24 -21.32 L37.31 -20.25 L38.38 -18.12 L38.38 -15.99 L37.31 -13.86 L35.18 -10.66 L24.52 0 L39.44 0" fill="none" stroke="#000" stroke-width="2.4" stroke-linejoin="bevel"/><path transform="translate(403.4 988.3)" d="M14.92 -11.73 L13.86 -13.86 L10.66 -14.92 L7.46 -14.92 L4.26 -13.86 L3.2 -11.73 L4.26 -9.59 L6.4 -8.53 L11.73 -7.46 L13.86 -6.4 L14.92 -4.26 L14.92 -3.2 L13.86 -1.07 L10.66 0 L7.46 0 L4.26 -1.07 L3.2 -3.2M46.9 -26.65 L44.77 -24.52 L42.64 -21.32 L40.51 -17.06 L39.44 -11.73 L39.44 -7.46 L40.51 -2.13 L42.64 2.44 L44.77 6.09 L46.9 8.53M54.37 0 L54.37 -22.39 L62.89 0 L71.42 -22.39 L71.42 0M79.95 -14.92 L79.95 0M79.95 -10.66 L83.15 -13.86 L85.28 -14.92 L88.48 -14.92 L90.61 -13.86 L91.68 -10.66 L91.68 0M91.68 -10.66 L94.87 -13.86 L97.01 -14.92 L100.2 -14.92 L102.34 -13.86 L103.4 -10.66 L103.4 0M110.86 -26.65 L113 -24.52 L115.13 -21.32 L117.26 -17.06 L118.33 -11.73 L118.33 -7.46 L117.26 -2.13 L115.13 2.44 L113 6.09 L110.86 8.53" fill="none" stroke="#000" stroke-width="2.4" stroke-linejoin="bevel"/><path transform="translate(162.85 101.6)" d="M15.29 -34.75 L12.51 -31.97 L9.73 -27.8 L6.95 -22.24 L5.56 -15.29 L5.56 -9.73 L6.95 -2.78 L9.73 3.18 L12.51 7.94 L15.29 11.12M33.36 -29.19 L30.58 -29.19 L27.8 -27.8 L26.41 -23.63 L26.41 0M22.24 -19.46 L31.97 -19.46M40.31 -34.75 L43.09 -31.97 L45.87 -27.8 L48.65 -22.24 L50.04 -15.29 L50.04 -9.73 L48.65 -2.78 L45.87 3.18 L43.09 7.94 L40.31 11.12M102.86 -22.24 L101.47 -25.02 L98.69 -27.8 L95.91 -29.19 L90.35 -29.19 L87.57 -27.8 L84.79 -25.02 L83.4 -22.24 L82.01 -18.07 L82.01 -11.12 L83.4 -6.95 L84.79 -4.17 L87.57 -1.39 L90.35 0 L95.91 0 L98.69 -1.39 L101.47 -4.17 L102.86 -6.95M118.15 -19.46 L115.37 -18.07 L112.59 -15.29 L111.2 -11.12 L111.2 -8.34 L112.59 -4.17 L115.37 -1.39 L118.15 0 L122.32 0 L125.1 -1.39 L127.88 -4.17 L129.27 -8.34 L129.27 -11.12 L127.88 -15.29 L125.1 -18.07 L122.32 -19.46 L118.15 -19.46M139 -19.46 L139 0M139 -13.9 L143.17 -18.07 L145.95 -19.46 L150.12 -19.46 L152.9 -18.07 L154.29 -13.9 L154.29 0M180.7 -29.19 L180.7 0M180.7 -15.29 L177.92 -18.07 L175.14 -19.46 L170.97 -19.46 L168.19 -18.07 L165.41 -15.29 L164.02 -11.12 L164.02 -8.34 L165.41 -4.17 L168.19 -1.39 L170.97 0 L175.14 0 L177.92 -1.39 L180.7 -4.17M191.82 -19.46 L191.82 -5.56 L193.21 -1.39 L195.99 0 L200.16 0 L202.94 -1.39 L207.11 -5.56M207.11 -19.46 L207.11 0M233.52 -15.29 L230.74 -18.07 L227.96 -19.46 L223.79 -19.46 L221.01 -18.07 L218.23 -15.29 L216.84 -11.12 L216.84 -8.34 L218.23 -4.17 L221.01 -1.39 L223.79 0 L227.96 0 L230.74 -1.39 L233.52 -4.17M244.64 -29.19 L244.64 -5.56 L246.03 -1.39 L248.81 0 L251.59 0M240.47 -19.46 L250.2 -19.46M258.54 -29.19 L259.93 -27.8 L261.32 -29.19 L259.93 -30.58 L258.54 -29.19M259.93 -19.46 L259.93 0M268.27 -19.46 L276.61 0 L284.95 -19.46M291.9 -11.12 L308.58 -11.12 L308.58 -13.9 L307.19 -16.68 L305.8 -18.07 L303.02 -19.46 L298.85 -19.46 L296.07 -18.07 L293.29 -15.29 L291.9 -11.12 L291.9 -8.34 L293.29 -4.17 L296.07 -1.39 L298.85 0 L303.02 0 L305.8 -1.39 L308.58 -4.17M340.55 0 L340.55 -29.19 L358.62 -29.19M340.55 -15.29 L351.67 -15.29M365.57 -29.19 L365.57 0M376.69 -19.46 L376.69 -5.56 L378.08 -1.39 L380.86 0 L385.03 0 L387.81 -1.39 L391.98 -5.56M391.98 -19.46 L391.98 0M401.71 -19.46 L417 0M417 -19.46 L401.71 0" fill="none" stroke="#000" stroke-width="3.2" stroke-linejoin="bevel"/><path transform="translate(41.4 364.9) rotate(-90) translate(0 0)" d="M4.26 -22.39 L4.26 0M24.52 -14.92 L24.52 2.44 L23.45 6.09 L22.39 7.31 L20.25 8.53 L17.06 8.53 L14.92 7.31M24.52 -11.73 L22.39 -13.86 L20.25 -14.92 L17.06 -14.92 L14.92 -13.86 L12.79 -11.73 L11.73 -8.53 L11.73 -6.4 L12.79 -3.2 L14.92 -1.07 L17.06 0 L20.25 0 L22.39 -1.07 L24.52 -3.2M50.1 0 L50.1 -22.39 L63.96 -22.39M50.1 -11.73 L58.63 -11.73M74.94 1.33 L73.62 0.01 L72.3 -0.65 L70.31 -0.65 L68.99 0.01 L67.67 1.33 L67.01 3.31 L67.01 4.63 L67.67 6.62 L68.99 7.94 L70.31 8.6 L72.3 8.6 L73.62 7.94 L74.94 6.62M82.21 -0.65 L80.89 0.01 L79.57 1.33 L78.91 3.31 L78.91 4.63 L79.57 6.62 L80.89 7.94 L82.21 8.6 L84.19 8.6 L85.51 7.94 L86.84 6.62 L87.5 4.63 L87.5 3.31 L86.84 1.33 L85.51 0.01 L84.19 -0.65 L82.21 -0.65M92.12 -0.65 L92.12 8.6M92.12 1.99 L94.11 0.01 L95.43 -0.65 L97.41 -0.65 L98.73 0.01 L99.39 1.99 L99.39 8.6M111.95 -5.28 L111.95 8.6M111.95 1.33 L110.63 0.01 L109.31 -0.65 L107.32 -0.65 L106 0.01 L104.68 1.33 L104.02 3.31 L104.02 4.63 L104.68 6.62 L106 7.94 L107.32 8.6 L109.31 8.6 L110.63 7.94 L111.95 6.62M143.38 -26.65 L141.25 -24.52 L139.11 -21.32 L136.98 -17.06 L135.92 -11.73 L135.92 -7.46 L136.98 -2.13 L139.11 2.44 L141.25 6.09 L143.38 8.53M149.77 -8.53 L162.57 -8.53 L162.57 -10.66 L161.5 -12.79 L160.43 -13.86 L158.3 -14.92 L155.1 -14.92 L152.97 -13.86 L150.84 -11.73 L149.77 -8.53 L149.77 -6.4 L150.84 -3.2 L152.97 -1.07 L155.1 0 L158.3 0 L160.43 -1.07 L162.57 -3.2M170.03 -14.92 L170.03 0M170.03 -8.53 L171.09 -11.73 L173.23 -13.86 L175.36 -14.92 L178.56 -14.92M195.61 -14.92 L195.61 2.44 L194.55 6.09 L193.48 7.31 L191.35 8.53 L188.15 8.53 L186.02 7.31M195.61 -11.73 L193.48 -13.86 L191.35 -14.92 L188.15 -14.92 L186.02 -13.86 L183.89 -11.73 L182.82 -8.53 L182.82 -6.4 L183.89 -3.2 L186.02 -1.07 L188.15 0 L191.35 0 L193.48 -1.07 L195.61 -3.2M231.86 -11.73 L230.79 -13.86 L227.59 -14.92 L224.39 -14.92 L221.2 -13.86 L220.13 -11.73 L221.2 -9.59 L223.33 -8.53 L228.66 -7.46 L230.79 -6.4 L231.86 -4.26 L231.86 -3.2 L230.79 -1.07 L227.59 0 L224.39 0 L221.2 -1.07 L220.13 -3.2M238.8 -22.15 L250.69 -22.15M257.3 -27.44 L258.62 -28.1 L260.61 -30.08 L260.61 -16.2M281.45 -11.73 L279.31 -13.86 L277.18 -14.92 L273.98 -14.92 L271.85 -13.86 L269.72 -11.73 L268.65 -8.53 L268.65 -6.4 L269.72 -3.2 L271.85 -1.07 L273.98 0 L277.18 0 L279.31 -1.07 L281.45 -3.2M288.91 -14.92 L288.91 0M288.91 -10.66 L292.11 -13.86 L294.24 -14.92 L297.44 -14.92 L299.57 -13.86 L300.63 -10.66 L300.63 0M300.63 -10.66 L303.83 -13.86 L305.96 -14.92 L309.16 -14.92 L311.29 -13.86 L312.36 -10.66 L312.36 0M320.47 -22.15 L332.36 -22.15M337.65 -26.77 L337.65 -27.44 L338.31 -28.76 L338.97 -29.42 L340.29 -30.08 L342.94 -30.08 L344.26 -29.42 L344.92 -28.76 L345.58 -27.44 L345.58 -26.11 L344.92 -24.79 L343.6 -22.81 L336.99 -16.2 L346.24 -16.2M350.92 -26.65 L353.06 -24.52 L355.19 -21.32 L357.32 -17.06 L358.39 -11.73 L358.39 -7.46 L357.32 -2.13 L355.19 2.44 L353.06 6.09 L350.92 8.53" fill="none" stroke="#000" stroke-width="2.4" stroke-linejoin="bevel"/></svg></body></html>
